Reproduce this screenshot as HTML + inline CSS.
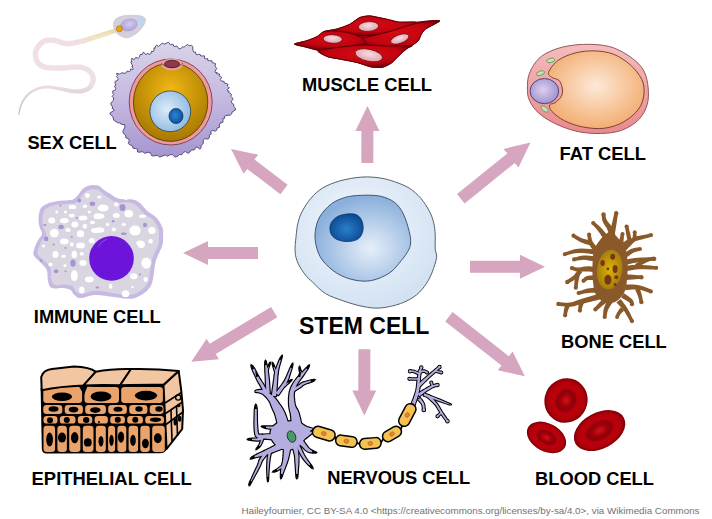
<!DOCTYPE html>
<html><head><meta charset="utf-8"><style>
html,body{margin:0;padding:0;background:#fff;width:712px;height:519px;overflow:hidden}
svg{display:block}
.lab text{font-family:"Liberation Sans",sans-serif;font-weight:bold;fill:#000}
.attr{font-family:"Liberation Sans",sans-serif;fill:#727272}
</style></head><body>
<svg width="712" height="519" viewBox="0 0 712 519">
<defs>
<radialGradient id="stemOut" cx="0.45" cy="0.4" r="0.6"><stop offset="0" stop-color="#f4f8fd"/><stop offset="1" stop-color="#d3e2f3"/></radialGradient>
<radialGradient id="stemNuc" cx="0.58" cy="0.62" r="0.6"><stop offset="0" stop-color="#e6eff9"/><stop offset="1" stop-color="#8bb0dc"/></radialGradient>
<radialGradient id="stemNucl" cx="0.5" cy="0.55" r="0.55"><stop offset="0" stop-color="#2a7fcc"/><stop offset="1" stop-color="#0b4a92"/></radialGradient>
<radialGradient id="rbc" cx="0.5" cy="0.5" r="0.5"><stop offset="0" stop-color="#b4000a"/><stop offset="0.6" stop-color="#bc000c"/><stop offset="0.85" stop-color="#b0000a"/><stop offset="1" stop-color="#7a0006"/></radialGradient>
<radialGradient id="rbcIn" cx="0.5" cy="0.5" r="0.5"><stop offset="0" stop-color="#d41414"/><stop offset="0.45" stop-color="#a0000a"/><stop offset="0.75" stop-color="#8a0008"/><stop offset="1" stop-color="#b4000a" stop-opacity="0"/></radialGradient>
<radialGradient id="fatIn" cx="0.5" cy="0.45" r="0.6"><stop offset="0" stop-color="#fde9d8"/><stop offset="1" stop-color="#f2a96a"/></radialGradient>
<linearGradient id="fatOut" x1="0" y1="0" x2="0" y2="1"><stop offset="0" stop-color="#f5bcbc"/><stop offset="1" stop-color="#e98a8c"/></linearGradient>
<radialGradient id="fatNuc" cx="0.45" cy="0.45" r="0.6"><stop offset="0" stop-color="#dcd0ee"/><stop offset="1" stop-color="#9a8fd0"/></radialGradient>
<linearGradient id="eggCor" x1="0" y1="0" x2="0" y2="1"><stop offset="0" stop-color="#dad3e9"/><stop offset="0.5" stop-color="#c5b9e0"/><stop offset="1" stop-color="#a595d0"/></linearGradient>
<radialGradient id="eggGold" cx="0.5" cy="0.35" r="0.65"><stop offset="0" stop-color="#f2b814"/><stop offset="1" stop-color="#a67800"/></radialGradient>
<radialGradient id="eggNuc" cx="0.42" cy="0.45" r="0.65"><stop offset="0" stop-color="#dcebf8"/><stop offset="1" stop-color="#88b6e0"/></radialGradient>
<radialGradient id="eggNucl" cx="0.45" cy="0.45" r="0.6"><stop offset="0" stop-color="#2a86d4"/><stop offset="1" stop-color="#0a4d9c"/></radialGradient>
<radialGradient id="musc" cx="0.5" cy="0.4" r="0.6"><stop offset="0" stop-color="#d80a12"/><stop offset="0.65" stop-color="#c00410"/><stop offset="1" stop-color="#720008"/></radialGradient>
<radialGradient id="muscNuc" cx="0.5" cy="0.4" r="0.65"><stop offset="0" stop-color="#f8dce0"/><stop offset="1" stop-color="#e29aa4"/></radialGradient>
<radialGradient id="spHead" cx="0.55" cy="0.45" r="0.6"><stop offset="0" stop-color="#d4cbec"/><stop offset="1" stop-color="#ab9cd6"/></radialGradient>
<radialGradient id="boneNuc" cx="0.5" cy="0.5" r="0.55"><stop offset="0" stop-color="#dcb400"/><stop offset="1" stop-color="#a07810"/></radialGradient>
</defs>
<polygon fill="#d6a5bf" points="373.3,163 373.4,131 379.4,131 367.5,106 355.4,131 361.4,131 361.3,163"/>
<polygon fill="#d6a5bf" points="287.6,184.7 254.5,159.4 258.2,154.6 231,149 243.6,173.7 247.2,168.9 280.4,194.3"/>
<polygon fill="#d6a5bf" points="258,247 208,247 208,241 183,253 208,265 208,259 258,259"/>
<polygon fill="#d6a5bf" points="271.1,307 209.7,343.8 206.6,338.7 191.3,361.8 218.9,359.2 215.8,354.1 277.3,317.2"/>
<polygon fill="#d6a5bf" points="358.4,349.3 358.3,390.6 352.3,390.6 364.3,415.6 376.3,390.6 370.3,390.6 370.4,349.3"/>
<polygon fill="#d6a5bf" points="445.2,321.5 501.5,365.6 497.8,370.3 524.9,376.3 512.6,351.4 508.9,356.2 452.6,312.1"/>
<polygon fill="#d6a5bf" points="470,272.7 520,272.7 520,278.7 545,266.7 520,254.7 520,260.7 470,260.7"/>
<polygon fill="#d6a5bf" points="464.6,203.4 514.8,162.9 518.5,167.6 530.5,142.6 503.5,148.9 507.3,153.6 457,194"/>
<linearGradient id="tailG" gradientUnits="userSpaceOnUse" x1="0" y1="84" x2="0" y2="116"><stop offset="0" stop-color="#f1dfe6"/><stop offset="1" stop-color="#b8b8bc"/></linearGradient><polygon points="84.0,38.0 82.1,38.4 79.4,39.0 76.2,39.7 72.9,40.4 69.8,40.8 67.2,41.0 65.1,40.8 63.0,40.2 60.8,39.5 58.5,38.7 56.1,37.9 53.7,37.5 51.5,37.4 49.4,37.4 47.3,37.6 45.3,38.0 43.4,38.7 41.5,39.6 39.7,40.8 38.1,42.3 36.6,44.0 35.3,45.9 34.2,47.8 33.4,49.8 32.9,51.9 32.8,54.0 32.8,56.2 33.2,58.3 33.7,60.4 34.5,62.2 35.5,63.8 36.6,65.3 38.1,66.7 39.8,67.9 41.7,68.9 44.0,69.7 46.6,70.2 49.6,70.5 52.7,70.7 55.9,70.7 59.0,70.7 62.1,70.7 65.1,70.6 68.3,70.3 71.4,70.0 74.3,69.8 76.9,69.7 79.1,69.8 81.1,70.1 82.9,70.6 84.4,71.1 85.8,71.8 87.0,72.6 87.9,73.3 88.7,74.2 89.4,75.3 90.0,76.5 90.3,77.7 90.5,78.8 90.5,79.8 90.3,80.9 89.9,82.2 89.3,83.5 88.5,84.8 87.6,85.9 86.7,86.8 85.5,87.5 83.9,88.1 82.2,88.6 80.2,88.9 78.1,89.2 75.9,89.3 73.7,89.2 71.3,88.9 68.7,88.5 66.0,87.9 63.3,87.4 60.6,87.0 58.0,86.7 55.3,86.2 52.6,85.8 49.9,85.5 47.2,85.4 44.5,85.5 41.9,86.0 39.4,86.7 36.9,87.6 34.5,88.7 32.2,89.9 30.1,91.3 28.3,92.8 26.6,94.5 25.0,96.3 23.7,98.3 22.4,100.2 21.4,102.2 20.5,104.4 19.8,106.8 19.2,109.2 18.8,111.4 18.5,113.3 18.2,114.7 19.2,114.9 19.6,113.6 20.0,111.7 20.5,109.5 21.1,107.2 21.9,104.9 22.8,103.0 23.9,101.2 25.2,99.3 26.6,97.6 28.1,95.9 29.7,94.4 31.5,93.1 33.4,92.0 35.5,91.0 37.8,90.1 40.1,89.3 42.5,88.8 44.9,88.5 47.2,88.4 49.6,88.6 52.1,89.0 54.7,89.5 57.4,90.1 60.0,90.6 62.6,91.1 65.2,91.7 67.9,92.3 70.6,92.9 73.3,93.3 75.9,93.5 78.3,93.5 80.7,93.4 83.0,93.0 85.3,92.5 87.4,91.8 89.3,90.8 91.1,89.5 92.6,87.9 93.8,86.1 94.8,84.3 95.5,82.3 95.9,80.4 95.9,78.4 95.6,76.4 95.0,74.5 94.1,72.7 93.0,71.0 91.7,69.5 90.1,68.2 88.4,67.1 86.5,66.2 84.4,65.4 82.2,64.8 79.7,64.4 76.9,64.3 73.9,64.4 70.9,64.6 67.8,65.0 64.8,65.2 61.9,65.3 59.0,65.3 55.9,65.3 52.8,65.3 50.0,65.2 47.4,64.9 45.4,64.5 43.8,63.9 42.5,63.3 41.5,62.6 40.6,61.7 39.9,60.8 39.3,59.8 38.8,58.6 38.4,57.2 38.2,55.7 38.2,54.2 38.3,52.7 38.6,51.4 39.1,50.1 39.9,48.8 40.9,47.4 42.0,46.1 43.2,45.0 44.3,44.2 45.4,43.6 46.7,43.2 48.1,43.0 49.7,42.8 51.4,42.8 53.1,42.9 54.8,43.2 56.8,43.8 59.0,44.6 61.5,45.4 64.2,46.1 67.2,46.4 70.4,46.2 73.8,45.7 77.3,45.0 80.6,44.3 83.3,43.6 85.2,43.2" fill="url(#tailG)"/><linearGradient id="midG" gradientUnits="userSpaceOnUse" x1="114" y1="31" x2="80" y2="42"><stop offset="0" stop-color="#ecdcae"/><stop offset="0.6" stop-color="#efe2bc"/><stop offset="1" stop-color="#f1dfe6"/></linearGradient><polygon points="114.3,28.6 99.3,33.3 81.2,38.8 82.8,43.8 100.7,37.7 115.7,33.0" fill="url(#midG)"/><path d="M111,33 L92,38.6" stroke="#f5edd2" stroke-width="1.2" stroke-linecap="round" opacity="0.7"/><path d="M126,38 C118,36 113,31 113.5,24 C114,18 120,15.5 130,15.3 C139,15 146,16 145.5,20.5 C145,26 136,37 126,38 Z" fill="#d5cfdd" stroke="#c4bdcc" stroke-width="0.6"/><ellipse cx="129" cy="24.9" rx="9" ry="6.2" transform="rotate(-15 129 24.9)" fill="url(#spHead)"/><ellipse cx="140.8" cy="20.9" rx="3.5" ry="4" fill="#bcd6ee"/><circle cx="119.4" cy="28.8" r="3" fill="#e8a800" stroke="#b07a10" stroke-width="0.8"/>
<path d="M113.6,98.0 L112.1,96.3 L113.7,94.7 L112.8,93.0 L112.6,91.2 L115.4,89.9 L115.8,88.2 L114.4,86.3 L116.0,85.2 L115.2,83.4 L115.0,81.4 L117.7,80.4 L118.1,78.6 L116.4,76.5 L117.5,75.6 L116.4,73.8 L116.7,73.3 L119.7,74.1 L120.5,73.8 L121.4,72.8 L125.0,73.3 L126.5,72.6 L126.9,71.2 L129.8,71.4 L130.7,70.3 L130.5,69.0 L132.8,69.5 L133.1,68.5 L131.8,66.3 L132.8,66.1 L131.9,64.3 L130.8,61.9 L131.9,61.5 L131.3,59.5 L131.7,58.4 L134.1,59.5 L134.9,58.9 L135.7,57.4 L138.4,58.2 L139.6,57.1 L140.1,54.5 L142.3,54.4 L143.2,52.3 L143.6,52.1 L145.5,54.4 L146.2,54.7 L147.2,53.2 L149.7,54.4 L151.0,53.5 L151.5,51.2 L153.2,51.7 L154.0,49.9 L154.0,47.8 L155.0,48.5 L155.2,47.0 L156.5,45.2 L158.5,46.4 L160.0,45.2 L162.2,43.2 L164.8,44.2 L167.1,42.8 L168.6,42.2 L170.3,44.6 L171.9,44.6 L172.9,44.0 L173.8,46.4 L174.8,46.4 L176.9,46.0 L178.7,48.6 L180.8,48.8 L182.6,46.6 L183.8,47.4 L185.5,45.8 L187.8,44.4 L189.3,46.0 L191.5,45.2 L192.7,46.4 L192.9,50.5 L193.9,52.3 L195.6,52.0 L196.0,54.4 L197.5,54.7 L199.9,54.1 L200.8,56.0 L202.9,55.9 L204.6,55.9 L204.5,58.4 L205.8,58.9 L207.8,58.6 L207.8,60.5 L209.4,60.7 L211.9,60.7 L212.2,62.7 L214.2,63.1 L215.7,63.7 L214.9,66.3 L216.0,67.3 L216.8,68.4 L215.1,71.2 L215.4,72.6 L217.2,72.4 L216.5,73.7 L217.8,73.8 L219.7,74.0 L218.9,75.7 L220.2,76.2 L221.7,77.3 L220.4,79.6 L221.4,81.0 L224.1,81.4 L224.0,82.8 L226.2,83.4 L228.1,84.3 L227.2,85.9 L228.5,87.0 L229.3,88.0 L227.1,89.5 L227.3,90.6 L229.3,91.2 L228.3,92.3 L229.7,93.0 L231.7,94.5 L230.7,96.2 L232.1,97.7 L233.1,99.4 L231.2,101.2 L231.6,102.9 L234.0,104.7 L233.5,106.2 L235.3,107.9 L235.3,110.1 L232.2,111.9 L231.6,114.0 L230.3,115.1 L226.1,115.5 L224.2,116.5 L224.9,118.1 L222.8,118.8 L223.0,120.2 L222.9,122.3 L220.0,123.2 L219.3,125.1 L219.5,127.3 L217.1,128.0 L216.8,130.0 L215.7,131.1 L212.3,130.5 L210.7,131.3 L211.2,134.1 L209.4,135.0 L209.4,137.4 L208.2,139.1 L204.9,138.6 L203.3,139.9 L203.2,143.7 L201.3,145.1 L200.8,148.5 L199.8,149.1 L197.3,147.2 L195.9,147.3 L194.3,150.0 L191.5,150.0 L189.7,152.2 L188.0,153.3 L185.5,151.6 L183.6,152.2 L181.7,154.8 L179.4,154.5 L177.4,156.5 L175.0,157.1 L172.5,154.7 L170.0,154.7 L167.5,156.3 L165.3,154.9 L162.9,155.9 L159.8,157.1 L157.3,155.3 L154.3,155.9 L151.8,155.8 L150.4,152.9 L148.1,152.2 L144.7,153.3 L142.7,151.7 L139.5,152.2 L137.6,152.0 L137.4,149.2 L135.8,148.5 L133.0,148.2 L132.1,145.6 L129.6,144.8 L128.4,143.6 L129.2,140.3 L128.4,138.7 L125.8,137.8 L125.6,135.0 L123.5,133.7 L122.9,131.3 L124.8,127.3 L124.7,124.5 L121.2,124.4 L120.3,123.0 L117.3,122.6 L113.7,120.1 L112.9,116.7 L109.9,114.0 L110.2,112.8 L113.4,111.0 L114.2,109.7 L112.0,108.4 L112.8,106.8 L111.2,105.4 L110.8,103.0 L113.4,100.5Z" fill="url(#eggCor)" stroke="#54487a" stroke-width="0.95" stroke-linejoin="round"/><ellipse cx="170.7" cy="102" rx="41.5" ry="43" fill="#ee9a9c" stroke="#6a3038" stroke-width="0.8"/><ellipse cx="170.6" cy="102.2" rx="37.2" ry="39.2" fill="url(#eggGold)" stroke="#4a3600" stroke-width="0.8"/><ellipse cx="172" cy="64.5" rx="11" ry="6" fill="#ee9a9c" stroke="none"/><path d="M161,63.5 Q172,72 183,63.5" fill="none" stroke="#4a3600" stroke-width="0.7"/><ellipse cx="172" cy="64" rx="7.5" ry="3.7" fill="#8a3a4a" stroke="#3a1018" stroke-width="0.7"/><circle cx="170.3" cy="111.3" r="20.4" fill="url(#eggNuc)" stroke="#243e5c" stroke-width="0.8"/><ellipse cx="176" cy="116" rx="7" ry="7.6" fill="url(#eggNucl)" stroke="#0a2a5a" stroke-width="0.7"/>
<path d="M294.5,44C294.8,43.3 304.3,41.6 306.9,40.7C309.5,39.8 315,37.8 317,36.7C319,35.7 321.3,32.6 323.7,31.7C326.1,30.8 334.2,29.8 337.2,28.9C340.2,28 347,25.7 349.6,24.4C352.2,23.1 357.5,18.6 359.7,17.6C361.9,16.6 366.8,16 368.7,15.9C370.6,15.8 373.8,16.5 376.2,17C378.6,17.5 387.1,19.3 389.7,19.9C392.3,20.5 395.7,21.8 398.7,22.1C401.7,22.4 412.2,22.2 415.6,22.1C419,22 425.1,21.1 427.9,21C430.7,20.9 440,20.1 439.7,21C439.4,21.9 427.9,27.3 425.7,28.9C423.5,30.5 422.1,33.1 421.2,34.5C420.3,35.9 419.4,39.6 417.8,41.2C416.2,42.8 409.9,46.3 407.7,48C405.5,49.7 400.5,54.1 398.7,55.8C396.9,57.5 393.8,61.3 392,62.6C390.2,63.9 385.4,66.6 383,67.1C380.6,67.6 374.7,67.6 371.7,67.1C368.7,66.6 361,63.5 357.4,62.6C353.8,61.7 344,59.9 340.6,59.2C337.2,58.5 330.7,57.7 328.2,56.9C325.7,56.1 320.4,53.2 319.2,52.4C318,51.6 319.8,50.9 318.1,50.2C316.4,49.5 307.4,47.5 304.6,46.8C301.8,46.1 294.2,44.7 294.5,44Z" fill="#a8000e" stroke="#6e0008" stroke-width="0.9"/><path d="M323.7,31.7C324,31 334.2,29.8 337.2,28.9C340.2,28 347,25.7 349.6,24.4C352.2,23.1 357.5,18.6 359.7,17.6C361.9,16.6 366.8,16 368.7,15.9C370.6,15.8 373.8,16.5 376.2,17C378.6,17.5 387.1,19.3 389.7,19.9C392.3,20.5 395.7,21.8 398.7,22.1C401.7,22.4 414.3,21.6 415.6,22.1C416.9,22.6 412.4,25.4 410,26.5C407.6,27.6 399.1,30.5 395,31.5C390.9,32.5 380.2,34.5 375,35C369.8,35.5 354.7,36 350,36C345.3,36 338.1,35.5 335,35C331.9,34.5 323.4,32.4 323.7,31.7Z" fill="url(#musc)" stroke="#5e0006" stroke-width="1"/><path d="M352,41C352.9,39.8 365.6,37.6 370,36.5C374.4,35.4 385.3,32.8 390,31.5C394.7,30.2 405.6,26.2 410,25C414.4,23.8 424.4,21.7 427.9,21.2C431.4,20.7 440,20.1 439.7,21C439.4,21.9 427.9,27.3 425.7,28.9C423.5,30.5 422.1,33.1 421.2,34.5C420.3,35.9 419.4,39.6 417.8,41.2C416.2,42.8 410.4,46.9 407.7,48C405,49.1 398.5,50.8 395,51C391.5,51.2 381.9,50.5 378,50C374.1,49.5 365,47.5 362,46.5C359,45.5 351.1,42.2 352,41Z" fill="url(#musc)" stroke="#5e0006" stroke-width="1"/><path d="M294.5,44C294.8,43.3 304.3,41.6 306.9,40.7C309.5,39.8 315,37.8 317,36.7C319,35.7 321.6,32.4 323.7,31.7C325.8,31 331.9,30.8 335,31C338.1,31.2 346.9,32.2 350,33C353.1,33.8 360.1,36.7 362,38C363.9,39.3 367.2,42.8 366,44C364.8,45.2 356,47.9 352,48.5C348,49.1 336,48.8 332,49C328,49.2 321.3,50.5 318.1,50.2C314.9,49.9 307.4,47.5 304.6,46.8C301.8,46.1 294.2,44.7 294.5,44Z" fill="url(#musc)" stroke="#5e0006" stroke-width="1"/><path d="M318.1,50.2C319.4,49.7 326.9,48.9 330,48.5C333.1,48.1 340.9,46.9 345,46.5C349.1,46.1 360.3,45.1 365,45C369.7,44.9 380.9,45.9 385,46C389.1,46.1 396.9,45.5 400,45.5C403.1,45.5 411.1,45.7 412,46C412.9,46.3 409.3,46.9 407.7,48C406.1,49.1 400.5,54.1 398.7,55.8C396.9,57.5 393.8,61.3 392,62.6C390.2,63.9 385.4,66.6 383,67.1C380.6,67.6 374.7,67.6 371.7,67.1C368.7,66.6 361,63.5 357.4,62.6C353.8,61.7 344,59.9 340.6,59.2C337.2,58.5 330.7,57.7 328.2,56.9C325.7,56.1 320.4,53.2 319.2,52.4C318,51.6 316.8,50.7 318.1,50.2Z" fill="url(#musc)" stroke="#5e0006" stroke-width="1"/><ellipse cx="368.5" cy="26.5" rx="10.2" ry="4.9" transform="rotate(-4 368.5 26.5)" fill="url(#muscNuc)" stroke="#6a0a16" stroke-width="0.8"/><ellipse cx="332.7" cy="39" rx="9.6" ry="4.3" transform="rotate(3 332.7 39)" fill="url(#muscNuc)" stroke="#6a0a16" stroke-width="0.8"/><ellipse cx="399.8" cy="39" rx="9.6" ry="4.3" transform="rotate(-20 399.8 39)" fill="url(#muscNuc)" stroke="#6a0a16" stroke-width="0.8"/><ellipse cx="368.8" cy="55.3" rx="14" ry="6" transform="rotate(12 368.8 55.3)" fill="url(#muscNuc)" stroke="#6a0a16" stroke-width="0.8"/>
<path d="M527.4,88C527.4,83.4 527.5,78 529.5,73.1C531.5,68.1 535,62.2 539.1,58.3C543.2,54.4 548.2,52 553.9,49.8C559.5,47.6 566.3,46.1 573,45.2C579.7,44.3 587.4,44.1 594.1,44.5C600.8,44.9 606.8,45.4 613.2,47.7C619.6,50 627.2,54.4 632.3,58.3C637.4,62.2 641.2,66 643.9,71C646.5,76 647.7,82.3 648.2,88C648.7,93.7 648.7,99.6 647.1,104.9C645.5,110.2 642.8,115.5 638.6,119.7C634.4,123.9 628.1,128 621.7,130.3C615.4,132.6 607.9,133.3 600.5,133.5C593.1,133.7 584.6,133 577.2,131.4C569.8,129.8 562.4,127 556,124C549.6,121 543.5,117.3 539.1,113.4C534.7,109.5 531.5,104.9 529.5,100.7C527.5,96.5 527.4,92.6 527.4,88Z" fill="url(#fatOut)" stroke="#8a4a4e" stroke-width="0.9"/><path d="M548.6,72.1C549.7,69.3 553.7,63.6 558.1,60.4C562.5,57.2 569.1,54.6 575.1,53C581.1,51.4 587.8,50.7 594.1,50.9C600.5,51.1 607.2,51.8 613.2,54.1C619.2,56.4 625.3,60.5 630.1,64.7C634.9,68.9 639.5,74.6 641.8,79.5C644.1,84.4 644.4,89.4 643.9,94.3C643.4,99.2 642,104.5 638.6,109.1C635.2,113.7 629.4,118.6 623.8,121.8C618.1,125 611.4,127.3 604.7,128.2C598,129.1 590.2,128.3 583.5,127.1C576.8,125.9 569.8,123.4 564.5,120.8C559.2,118.2 554.3,113.9 551.8,111.3C549.3,108.7 549.2,106.3 549.7,104.9C550.2,103.5 553.1,104.2 555,102.8C556.9,101.4 560.1,98.7 561.3,96.4C562.5,94.1 562.8,91.7 562.4,89C562,86.3 561,82.4 559.2,80.5C557.4,78.6 553.6,78.8 551.8,77.4C550,76 547.5,74.9 548.6,72.1Z" fill="url(#fatIn)" stroke="#6a3a30" stroke-width="0.9"/><ellipse cx="544.4" cy="91.1" rx="14.3" ry="12.6" fill="url(#fatNuc)" stroke="#4a3a66" stroke-width="0.9"/><ellipse cx="550.7" cy="60.4" rx="4.3" ry="2.1" transform="rotate(-15 550.7 60.4)" fill="#c4e2b4" stroke="#5a8a4c" stroke-width="0.7"/><ellipse cx="540.5" cy="73.2" rx="4.3" ry="2.1" transform="rotate(-20 540.5 73.2)" fill="#c4e2b4" stroke="#5a8a4c" stroke-width="0.7"/><ellipse cx="544.6" cy="109" rx="4.3" ry="2.1" transform="rotate(35 544.6 109)" fill="#c4e2b4" stroke="#5a8a4c" stroke-width="0.7"/>
<path d="M361.5,177.1C368.2,176.6 374.8,177.2 380.3,178C385.8,178.8 389.9,180.1 394.7,181.8C399.5,183.5 404.9,185.4 409.2,188.1C413.5,190.8 417.3,194.3 420.7,198.2C424.1,202 427.2,207.1 429.4,211.2C431.6,215.3 432.7,219 433.7,222.8C434.7,226.7 434.9,230 435.2,234.3C435.4,238.6 435,245 435.2,248.8C435.4,252.7 437.1,253.5 436.6,257.4C436.1,261.2 434,267.6 432.3,271.9C430.6,276.2 429.1,279.5 426.5,283.4C423.9,287.2 420.7,291.6 416.4,295C412.1,298.4 406.5,301.4 400.5,303.6C394.5,305.8 386.6,307.5 380.3,308C374.1,308.5 369.2,307.7 363,306.5C356.8,305.3 349.1,302.9 342.8,300.7C336.5,298.5 330.5,296.6 325.4,293.5C320.3,290.4 315.8,285.1 312.4,282C309,278.9 307.6,277.8 305.2,274.7C302.8,271.6 299.7,267.1 298,263.2C296.3,259.3 295.4,255.9 295.1,251.6C294.8,247.3 295.5,242 296,237.2C296.5,232.4 296.9,227.1 298,222.8C299.1,218.5 300.1,215.3 302.3,211.2C304.5,207.1 307.6,202 311,198.2C314.4,194.3 317.7,191 322.5,188.1C327.3,185.2 333.4,182.7 339.9,180.9C346.4,179.1 354.8,177.6 361.5,177.1Z" fill="url(#stemOut)" stroke="#56606c" stroke-width="1"/><path d="M361.5,195.3C367.3,195.1 374.8,195 380.3,196.2C385.8,197.4 390.9,199.5 394.7,202.5C398.5,205.5 401,209.3 403.4,214.1C405.8,218.9 408,226.6 409.2,231.4C410.4,236.2 410.9,239.6 410.6,243C410.4,246.4 409.6,248.2 407.7,251.6C405.8,255 402.2,259.6 399.1,263.2C396,266.8 393.6,270.4 389,273.3C384.4,276.2 377.4,279.4 371.6,280.5C365.8,281.6 360.1,281.2 354.3,280C348.5,278.8 342.3,276.6 337,273.3C331.7,270 326,264.9 322.5,260.3C319,255.7 317.4,250.7 316.2,245.9C315,241.1 314.7,236.2 315.3,231.4C315.9,226.6 317.1,221.6 319.7,217C322.3,212.4 326.9,207.3 331.2,204C335.5,200.7 340.6,198.8 345.6,197.3C350.7,195.9 355.7,195.5 361.5,195.3Z" fill="url(#stemNuc)" stroke="#3e5674" stroke-width="1"/><path d="M331.2,222.8C332.8,219.9 336,216.9 339.9,215.5C343.8,214.1 350.7,213.4 354.3,214.1C357.9,214.8 360.1,217.2 361.5,219.9C362.9,222.6 363.5,226.9 363,230C362.5,233.1 361,236.7 358.6,238.6C356.2,240.5 352.1,241.3 348.5,241.5C344.9,241.7 340,240.9 337,239.5C334,238.1 331.6,235.7 330.6,232.9C329.6,230.1 329.6,225.7 331.2,222.8Z" fill="url(#stemNucl)" stroke="#0a3466" stroke-width="0.8"/>
<g transform="translate(566 400.5) rotate(25)"><ellipse rx="21.5" ry="22.5" fill="url(#rbc)"/><ellipse rx="12" ry="14" fill="url(#rbcIn)"/></g><g transform="translate(546.5 437.4) rotate(28)"><ellipse rx="21" ry="14" fill="url(#rbc)"/><ellipse rx="12.5" ry="7.8" fill="url(#rbcIn)"/></g><g transform="translate(599.6 430.6) rotate(-28)"><ellipse rx="27.5" ry="18" fill="url(#rbc)"/><ellipse rx="17.5" ry="10.5" fill="url(#rbcIn)"/></g>
<path d="M90.5,185.3C93,184.8 96,185 98,185.6C100,186.2 100.5,187.4 102.5,188.8C104.5,190.2 107.3,192.1 110,193.8C112.7,195.5 115,197.9 118.8,198.8C122.5,199.7 129,198.7 132.5,199.4C136,200.1 137.5,201 140,203C142.5,205 144.8,208.9 147.5,211.3C150.2,213.7 153.8,214.8 156.3,217.5C158.8,220.2 161.4,224.6 162.5,227.5C163.6,230.4 163.1,232.1 163.1,235C163.1,237.9 163.4,241.4 162.5,245C161.6,248.6 158.8,253 157.5,256.3C156.2,259.6 155.6,262.1 155,265C154.4,267.9 154.4,270.5 153.8,273.8C153.2,277.1 152.8,281.9 151.3,285C149.8,288.1 147.5,290.4 145,292.5C142.5,294.6 139,296.4 136.3,297.5C133.6,298.6 132.6,298.9 128.8,298.8C125.1,298.7 119.4,297.5 113.8,296.9C108.2,296.3 100.5,294.8 95,295C89.5,295.2 84,298.1 80.5,298.1C77,298.1 76,296.4 74.3,295C72.6,293.6 72.4,291.1 70.5,290C68.6,288.9 66.1,288.4 63,288.1C59.9,287.8 54.3,289.2 51.8,288.1C49.3,287 48.8,284.3 48,281.3C47.2,278.3 48,273.1 46.8,270C45.5,266.9 42.6,264.8 40.5,262.5C38.4,260.2 35.4,258.2 34.3,256.3C33.1,254.4 33.1,253.9 33.6,251.3C34.1,248.8 36.1,243.9 37.5,241C38.9,238.1 41.7,236.4 42,234C42.3,231.6 39.9,229.1 39.3,226.3C38.7,223.6 38.4,220.4 38.6,217.5C38.8,214.6 39.4,211 40.5,208.8C41.6,206.6 43.4,205.6 45.5,204.4C47.6,203.2 50.1,202.5 53,201.9C55.9,201.3 59.7,201 63,200.6C66.3,200.2 70.5,200.3 73,199.4C75.5,198.5 76.3,196.8 78,195C79.7,193.2 80.9,190.4 83,188.8C85.1,187.2 88,185.8 90.5,185.3Z" fill="#c8b9e2"/><path d="M90.8,189.5C93.1,189 95.9,189.2 97.7,189.8C99.6,190.4 100,191.6 101.9,192.9C103.7,194.3 106.2,196.2 108.7,197.8C111.2,199.4 113.2,201.7 116.7,202.4C120.2,203.2 126.3,202 129.7,202.5C133,203.1 134.4,203.9 136.8,205.7C139.2,207.5 141.3,211.2 143.9,213.4C146.5,215.6 150,216.5 152.4,219C154.8,221.5 157.3,225.6 158.4,228.4C159.5,231.1 158.9,232.7 158.9,235.4C158.9,238.1 159.2,241.5 158.3,244.8C157.4,248.1 154.6,252.2 153.4,255.4C152.2,258.5 151.6,260.8 151.1,263.5C150.5,266.2 150.6,268.6 150.1,271.8C149.6,275 149.3,279.5 148,282.5C146.6,285.4 144.4,287.6 142,289.5C139.7,291.5 136.3,293.2 133.8,294.1C131.2,295.1 130.2,295.4 126.6,295.2C123.1,295 117.7,293.7 112.4,292.9C107.1,292.2 100.1,290.6 94.9,290.8C89.8,291 84.7,294 81.5,294C78.3,294.1 77.3,292.4 75.8,291.1C74.2,289.8 74.1,287.3 72.4,286.2C70.6,285.2 68.3,284.8 65.3,284.6C62.4,284.4 57,286 54.6,285C52.3,284 51.9,281.4 51.2,278.6C50.5,275.7 51.5,270.8 50.4,267.8C49.3,264.9 46.4,263.1 44.4,261C42.4,258.9 39.5,257 38.4,255.3C37.3,253.6 37.2,253 37.7,250.6C38.3,248.3 40.3,243.7 41.7,241C43.1,238.4 45.9,236.9 46.2,234.6C46.4,232.3 44,230 43.3,227.4C42.7,224.9 42.3,221.9 42.5,219.2C42.6,216.4 43,213 44.1,211C45.1,209 46.8,208 48.8,207C50.8,205.9 53.2,205.3 56,204.8C58.8,204.3 62.4,204.2 65.5,203.9C68.7,203.7 72.6,204 74.9,203.2C77.2,202.3 77.9,200.7 79.4,199C80.9,197.3 82,194.5 83.9,192.9C85.8,191.3 88.5,190 90.8,189.5Z" fill="#d9d5e1"/><ellipse cx="87.4" cy="195.6" rx="2.5" ry="2.3" fill="#fff"/><ellipse cx="72.4" cy="206.9" rx="3.7" ry="2.2" fill="#fff"/><ellipse cx="84.9" cy="206.3" rx="2.2" ry="1.8" fill="#fff"/><ellipse cx="56.8" cy="211.9" rx="1.5" ry="1.5" fill="#fff"/><ellipse cx="65.5" cy="211.9" rx="1.5" ry="1.5" fill="#fff"/><ellipse cx="89.3" cy="211.9" rx="1.5" ry="1.5" fill="#fff"/><ellipse cx="71.8" cy="215.6" rx="3" ry="1.8" fill="#fff"/><ellipse cx="83" cy="218.1" rx="4.4" ry="2.5" fill="#fff"/><ellipse cx="97.4" cy="216.3" rx="3.7" ry="3" fill="#fff"/><ellipse cx="51.8" cy="220.6" rx="3.5" ry="3" fill="#fff"/><ellipse cx="64.3" cy="220.6" rx="4.4" ry="2.7" fill="#fff"/><ellipse cx="92.4" cy="222.5" rx="2.7" ry="1.8" fill="#fff"/><ellipse cx="74.9" cy="224.4" rx="3.5" ry="3" fill="#fff"/><ellipse cx="84.9" cy="226.3" rx="2.2" ry="2.5" fill="#fff"/><ellipse cx="54.3" cy="233.1" rx="4.4" ry="4.4" fill="#fff"/><ellipse cx="68" cy="230" rx="2.7" ry="2" fill="#fff"/><ellipse cx="80.5" cy="233.8" rx="3.7" ry="3.5" fill="#fff"/><ellipse cx="95.5" cy="230.6" rx="4.4" ry="2.5" fill="#fff"/><ellipse cx="64.3" cy="241.6" rx="4.4" ry="3" fill="#fff"/><ellipse cx="91.8" cy="240.6" rx="3" ry="2.7" fill="#fff"/><ellipse cx="99.4" cy="196.9" rx="2.2" ry="1.5" fill="#fff"/><ellipse cx="103.1" cy="208.1" rx="5.6" ry="3.5" fill="#fff"/><ellipse cx="116.3" cy="204.4" rx="2.2" ry="2.2" fill="#fff"/><ellipse cx="128.8" cy="213.8" rx="4.4" ry="3.7" fill="#fff"/><ellipse cx="142.5" cy="216.3" rx="3.5" ry="1.8" fill="#fff"/><ellipse cx="99.4" cy="216.3" rx="5" ry="2.7" fill="#fff"/><ellipse cx="116.3" cy="215.6" rx="3.5" ry="2.5" fill="#fff"/><ellipse cx="107.5" cy="224.4" rx="1.7" ry="1.7" fill="#fff"/><ellipse cx="123.8" cy="224.4" rx="2.2" ry="1.5" fill="#fff"/><ellipse cx="99.4" cy="230" rx="5" ry="2.7" fill="#fff"/><ellipse cx="113.8" cy="229.4" rx="2.2" ry="2" fill="#fff"/><ellipse cx="135" cy="230.6" rx="5.6" ry="5" fill="#fff"/><ellipse cx="151.9" cy="230.6" rx="3.7" ry="3.5" fill="#fff"/><ellipse cx="140" cy="243.1" rx="3.7" ry="2.5" fill="#fff"/><ellipse cx="150.6" cy="241.3" rx="2.3" ry="2.3" fill="#fff"/><ellipse cx="126" cy="198.5" rx="1.8" ry="1.5" fill="#fff"/><ellipse cx="71.8" cy="244.4" rx="1.8" ry="2.2" fill="#fff"/><ellipse cx="80.5" cy="245.6" rx="4.4" ry="3" fill="#fff"/><ellipse cx="55.5" cy="254.4" rx="3" ry="3.5" fill="#fff"/><ellipse cx="63.6" cy="256.3" rx="2.5" ry="1.5" fill="#fff"/><ellipse cx="74.3" cy="254.4" rx="2.7" ry="3.7" fill="#fff"/><ellipse cx="81.8" cy="253.8" rx="2.2" ry="1.8" fill="#fff"/><ellipse cx="50.5" cy="264.4" rx="2.2" ry="2" fill="#fff"/><ellipse cx="64.9" cy="265.6" rx="1.6" ry="1.6" fill="#fff"/><ellipse cx="83" cy="263.1" rx="3.7" ry="3" fill="#fff"/><ellipse cx="74.3" cy="275.6" rx="3.5" ry="5.6" fill="#fff"/><ellipse cx="89.3" cy="279.4" rx="4.4" ry="3" fill="#fff"/><ellipse cx="81.8" cy="290" rx="2.7" ry="3.5" fill="#fff"/><ellipse cx="141.3" cy="244.4" rx="3.7" ry="3.5" fill="#fff"/><ellipse cx="146.3" cy="263.1" rx="5" ry="5.6" fill="#fff"/><ellipse cx="133.8" cy="276.3" rx="3.7" ry="3" fill="#fff"/><ellipse cx="145.6" cy="279.4" rx="2.2" ry="2.5" fill="#fff"/><ellipse cx="110.6" cy="286.3" rx="1.8" ry="2.5" fill="#fff"/><ellipse cx="132.5" cy="286.9" rx="1.2" ry="1.2" fill="#fff"/><ellipse cx="125.6" cy="293.8" rx="3.7" ry="3.5" fill="#fff"/><ellipse cx="43.5" cy="246" rx="1.5" ry="1.5" fill="#fff"/><ellipse cx="79.3" cy="200.6" rx="1.8" ry="2" fill="#a892d2"/><ellipse cx="92.4" cy="203.8" rx="2.7" ry="2.2" fill="#a892d2"/><ellipse cx="60.5" cy="205.6" rx="1" ry="1" fill="#a892d2"/><ellipse cx="44.9" cy="225" rx="1.5" ry="1" fill="#a892d2"/><ellipse cx="61.1" cy="226.9" rx="2.7" ry="2.2" fill="#a892d2"/><ellipse cx="76.8" cy="218.1" rx="1" ry="1" fill="#a892d2"/><ellipse cx="46.1" cy="238.8" rx="2.2" ry="2.5" fill="#a892d2"/><ellipse cx="71.8" cy="236.9" rx="1" ry="1" fill="#a892d2"/><ellipse cx="122.5" cy="207.5" rx="3" ry="3.5" fill="#a892d2"/><ellipse cx="113.1" cy="221.3" rx="1.3" ry="1.3" fill="#a892d2"/><ellipse cx="145" cy="225" rx="2" ry="2.2" fill="#a892d2"/><ellipse cx="123.8" cy="233.8" rx="3" ry="1.2" fill="#a892d2"/><ellipse cx="46.8" cy="240" rx="1.5" ry="1" fill="#a892d2"/><ellipse cx="53.6" cy="244.4" rx="1" ry="1" fill="#a892d2"/><ellipse cx="65.5" cy="248.1" rx="1" ry="1" fill="#a892d2"/><ellipse cx="73" cy="263.1" rx="2.7" ry="3.7" fill="#a892d2"/><ellipse cx="41.1" cy="260.6" rx="1.2" ry="1.2" fill="#a892d2"/><ellipse cx="56.1" cy="271.3" rx="2.2" ry="2" fill="#a892d2"/><ellipse cx="65.5" cy="271.3" rx="1" ry="1" fill="#a892d2"/><ellipse cx="97.4" cy="287.5" rx="1.8" ry="1" fill="#a892d2"/><ellipse cx="140" cy="274.4" rx="1" ry="1" fill="#a892d2"/><circle cx="111.5" cy="258.4" r="22.3" fill="#6c14da"/><path d="M98,247 Q101,241 107,239" fill="none" stroke="#9a6ae8" stroke-width="0.7"/>
<g fill="#8a592a"><polygon points="615.5,234.9 615.0,233.8 614.3,232.2 613.5,230.3 612.5,228.3 611.5,226.5 610.5,224.8 609.3,223.4 608.2,222.0 607.3,220.9 606.7,219.8 606.2,218.8 605.9,217.5 605.6,216.3 605.4,215.1 605.2,214.3 601.8,214.7 601.8,215.5 601.8,216.7 602.0,218.2 602.2,219.9 602.7,221.6 603.5,223.2 604.5,224.7 605.4,226.2 606.3,227.6 607.1,228.9 607.7,230.5 608.4,232.4 609.1,234.2 609.7,235.9 610.1,237.1"/><circle cx="603.5" cy="214.5" r="2.20"/><polygon points="614.5,236.6 614.7,235.2 615.0,233.1 615.4,230.7 615.8,228.2 616.2,225.8 616.6,223.2 617.0,220.4 617.4,217.6 617.7,215.2 617.9,213.5 614.5,212.9 614.0,214.5 613.5,216.9 612.9,219.6 612.2,222.4 611.6,224.8 611.0,227.2 610.3,229.6 609.7,232.0 609.1,234.0 608.7,235.4"/><circle cx="616.2" cy="213.2" r="2.20"/><polygon points="609.2,237.4 608.2,236.2 606.8,234.4 605.1,232.4 603.4,230.4 601.8,228.6 600.1,226.9 598.4,225.3 596.8,223.9 595.4,222.7 594.4,221.8 592.0,224.2 592.9,225.2 594.2,226.5 595.6,228.1 597.1,229.8 598.4,231.4 599.8,233.3 601.3,235.4 602.7,237.5 603.9,239.3 604.8,240.6"/><circle cx="593.2" cy="223" r="2.10"/><polygon points="599.1,249.3 598.1,248.2 596.7,246.7 595.2,244.9 593.8,243.2 592.8,241.7 592.1,240.3 591.7,238.7 591.3,237.0 591.0,235.5 590.7,234.4 587.5,234.8 587.5,235.9 587.6,237.5 587.8,239.4 588.1,241.5 588.8,243.7 589.9,245.8 591.3,247.9 592.8,249.9 594.0,251.5 594.9,252.7"/><circle cx="589.1" cy="234.6" r="2.10"/><polygon points="591.6,240.6 590.3,240.4 588.4,240.0 586.3,239.6 584.2,239.1 582.4,238.5 580.7,237.8 578.8,236.8 577.1,235.8 575.5,234.9 574.4,234.3 572.6,237.1 573.7,237.8 575.1,238.9 576.9,240.1 578.9,241.3 580.8,242.3 582.9,243.1 585.1,243.9 587.3,244.5 589.1,245.0 590.4,245.4"/><circle cx="573.5" cy="235.7" r="2.10"/><polygon points="596.2,249.4 593.7,249.2 590.1,249.0 586.0,248.7 581.7,248.6 578.0,248.7 574.6,249.3 571.3,250.2 568.4,251.2 566.0,252.1 564.3,252.7 565.3,255.7 567.0,255.2 569.5,254.6 572.3,253.8 575.3,253.2 578.2,252.9 581.6,253.0 585.6,253.3 589.7,253.8 593.2,254.3 595.8,254.6"/><circle cx="564.8" cy="254.2" r="2.00"/><polygon points="596.4,256.4 594.7,256.2 592.3,256.0 589.4,255.7 586.5,255.5 583.9,255.6 581.4,255.8 579.0,256.3 576.8,256.9 575.0,257.4 573.8,257.8 574.4,261.0 575.8,260.8 577.6,260.5 579.7,260.2 581.9,259.9 583.9,259.8 586.2,260.0 588.9,260.4 591.6,260.9 594.0,261.3 595.6,261.6"/><circle cx="574.1" cy="259.4" r="2.10"/><polygon points="623.2,244.2 623.4,242.2 623.6,240.2 623.8,238.3 623.9,236.3 624.1,234.3 620.9,233.7 620.4,235.7 619.9,237.6 619.4,239.5 618.9,241.4 618.4,243.4"/><circle cx="622.5" cy="234" r="2.10"/><polygon points="624.4,246.7 625.1,246.0 625.8,245.4 626.6,244.7 627.3,244.1 628.0,243.4 626.4,240.8 625.5,241.2 624.6,241.6 623.7,241.9 622.7,242.3 621.8,242.7"/><circle cx="627.2" cy="242.1" r="2.00"/><polygon points="624.5,252.0 625.5,250.9 627.0,249.4 628.7,247.6 630.4,245.9 631.7,244.6 632.7,243.6 633.5,242.8 634.0,242.2 634.6,241.8 635.5,241.3 636.9,240.8 638.7,240.2 640.6,239.7 642.6,239.3 644.3,238.8 646.0,238.3 647.6,237.9 649.1,237.4 650.4,237.1 651.3,236.8 650.5,233.6 649.6,233.8 648.3,234.0 646.8,234.3 645.1,234.7 643.5,235.0 641.7,235.3 639.7,235.7 637.7,236.1 635.7,236.6 633.9,237.1 632.4,237.7 631.2,238.4 630.3,239.2 629.4,239.9 628.3,240.8 626.8,242.1 625.0,243.8 623.2,245.5 621.6,247.0 620.5,248.0"/><circle cx="650.9" cy="235.2" r="2.10"/><polygon points="632.3,242.2 632.0,240.9 631.5,238.9 630.9,236.7 630.4,234.5 630.0,232.6 629.5,231.0 629.1,229.5 628.8,228.1 628.5,227.0 628.2,226.1 625.0,226.9 625.1,227.7 625.3,228.9 625.5,230.3 625.8,231.8 626.0,233.4 626.4,235.3 626.8,237.5 627.2,239.8 627.5,241.8 627.7,243.2"/><circle cx="626.6" cy="226.5" r="2.10"/><polygon points="637.0,239.2 636.8,237.8 636.7,236.4 636.5,235.1 636.4,233.7 636.2,232.3 633.2,232.3 633.0,233.7 632.9,235.1 632.7,236.4 632.6,237.8 632.5,239.2"/><circle cx="634.7" cy="232.3" r="2.00"/><polygon points="625.5,258.2 626.6,257.4 628.2,256.2 630.0,254.9 631.7,253.7 633.3,252.8 634.7,252.2 636.3,251.7 637.8,251.2 639.2,250.9 640.2,250.6 639.6,247.4 638.6,247.5 637.2,247.6 635.4,247.8 633.5,248.2 631.5,248.8 629.5,249.7 627.4,250.9 625.4,252.1 623.7,253.1 622.5,253.8"/><circle cx="639.9" cy="249" r="2.10"/><polygon points="625.5,265.0 627.3,264.6 629.7,264.0 632.5,263.3 635.5,262.7 638.5,262.2 641.7,261.8 645.3,261.4 649.0,261.1 652.2,260.8 654.4,260.5 654.2,257.3 652.0,257.3 648.8,257.3 645.1,257.4 641.3,257.6 637.9,257.8 634.8,258.1 631.7,258.6 628.7,259.0 626.2,259.4 624.5,259.6"/><circle cx="654.3" cy="258.9" r="2.10"/><polygon points="625.6,271.3 627.3,271.0 629.8,270.5 632.6,270.1 635.7,269.6 638.8,269.3 642.2,269.2 646.2,269.3 650.2,269.4 653.7,269.4 656.1,269.4 656.3,266.2 653.9,265.9 650.4,265.6 646.3,265.3 642.3,265.0 638.6,264.9 635.4,264.9 632.1,265.1 629.1,265.4 626.6,265.6 624.8,265.7"/><circle cx="656.2" cy="267.8" r="2.10"/><polygon points="637.1,267.9 638.3,267.2 640.0,266.1 642.0,264.8 644.0,263.7 645.8,262.7 647.5,262.0 649.3,261.3 651.2,260.8 652.8,260.3 653.9,259.9 653.1,256.9 651.9,257.1 650.3,257.5 648.3,258.0 646.3,258.6 644.2,259.3 642.2,260.2 640.0,261.3 637.9,262.4 636.1,263.4 634.9,264.1"/><circle cx="653.5" cy="258.4" r="2.00"/><polygon points="626.6,279.9 629.6,279.8 632.5,279.6 635.5,279.3 638.4,279.1 641.4,278.9 641.4,275.4 638.4,275.2 635.5,275.1 632.5,274.8 629.6,274.6 626.6,274.4"/><circle cx="641.4" cy="277.2" r="2.20"/><polygon points="625.3,290.2 627.2,290.1 629.8,289.8 632.8,289.6 635.8,289.5 638.4,289.6 640.8,290.1 643.6,290.8 646.2,291.7 648.5,292.4 650.2,292.9 651.4,289.9 649.8,289.1 647.6,288.1 644.9,287.0 642.0,286.0 639.0,285.2 636.0,284.8 632.7,284.6 629.6,284.6 626.9,284.6 625.1,284.6"/><circle cx="650.8" cy="291.4" r="2.10"/><polygon points="635.2,289.5 635.6,290.5 636.2,291.9 636.9,293.5 637.6,295.2 638.1,296.6 638.5,297.9 638.9,299.3 639.2,300.6 639.5,301.7 639.8,302.5 643.0,301.9 642.9,301.0 642.8,299.9 642.5,298.5 642.3,296.9 641.9,295.4 641.5,293.8 640.9,292.1 640.4,290.4 639.9,288.9 639.6,287.9"/><circle cx="641.4" cy="302.2" r="2.10"/><polygon points="621.1,297.6 622.4,298.3 624.2,299.3 626.2,300.5 628.0,301.6 629.1,302.4 629.6,302.8 629.9,303.1 630.0,303.5 630.2,304.0 630.4,304.5 633.6,303.9 633.7,303.5 633.7,302.9 633.6,301.8 633.0,300.5 632.1,299.2 630.6,297.9 628.7,296.6 626.8,295.2 625.1,294.0 623.9,293.2"/><circle cx="632" cy="304.2" r="2.10"/><polygon points="616.4,302.6 617.4,303.6 618.8,304.9 620.3,306.5 621.9,308.3 623.4,310.1 624.9,312.3 626.5,315.0 628.1,317.8 629.5,320.2 630.5,321.9 633.5,320.3 632.6,318.5 631.4,316.0 630.0,313.1 628.5,310.2 627.0,307.7 625.6,305.5 624.0,303.4 622.6,301.6 621.4,300.1 620.6,299.0"/><circle cx="632" cy="321.1" r="2.10"/><polygon points="620.8,307.3 620.3,307.9 619.6,308.8 618.9,309.8 618.1,310.9 617.4,311.9 616.8,313.0 616.4,314.0 616.1,315.0 615.8,315.8 615.7,316.4 618.5,317.6 618.8,317.1 619.2,316.4 619.7,315.5 620.1,314.8 620.6,314.1 621.2,313.4 622.0,312.6 622.9,311.7 623.7,311.0 624.2,310.5"/><circle cx="617.1" cy="317" r="2.00"/><polygon points="607.9,299.4 607.4,300.5 606.6,302.2 605.6,304.1 604.6,306.2 603.9,308.3 603.4,310.3 603.2,312.3 603.1,314.2 603.1,315.7 603.1,316.8 606.3,317.2 606.6,316.1 606.9,314.6 607.2,312.9 607.6,311.2 608.1,309.7 608.9,308.3 609.9,306.5 611.1,304.8 612.1,303.3 612.9,302.2"/><circle cx="604.7" cy="317" r="2.10"/><polygon points="593.7,266.4 592.6,266.4 591.1,266.4 589.4,266.3 587.5,266.3 585.7,266.4 584.0,266.6 582.3,266.9 580.8,267.2 579.4,267.4 578.2,267.5 577.0,267.4 575.7,267.2 574.5,266.9 573.3,266.6 572.5,266.4 571.5,269.8 572.3,270.1 573.4,270.5 574.8,271.0 576.3,271.4 578.0,271.7 579.7,271.8 581.3,271.7 582.9,271.5 584.5,271.4 585.9,271.4 587.4,271.5 589.1,271.6 590.8,271.8 592.3,271.9 593.3,272.0"/><circle cx="572" cy="268.1" r="2.20"/><polygon points="578.6,269.3 577.9,270.2 577.0,271.5 575.9,272.9 574.8,274.3 573.7,275.4 572.3,276.5 570.7,277.7 569.0,278.8 567.5,279.8 566.4,280.5 568.2,283.5 569.3,282.9 570.9,282.0 572.8,281.0 574.6,279.8 576.3,278.6 577.8,277.2 579.2,275.7 580.5,274.3 581.5,273.1 582.2,272.3"/><circle cx="567.3" cy="282" r="2.20"/><polygon points="575.7,272.5 575.5,273.7 575.3,275.3 575.0,277.1 574.7,279.0 574.5,280.7 574.4,282.3 574.3,283.9 574.2,285.4 574.2,286.7 574.2,287.5 577.4,287.9 577.6,287.0 577.8,285.7 578.0,284.3 578.2,282.8 578.5,281.3 578.8,279.7 579.2,277.9 579.6,276.1 580.0,274.6 580.3,273.5"/><circle cx="575.8" cy="287.7" r="2.10"/><polygon points="594.0,275.3 593.0,275.3 591.7,275.4 590.1,275.5 588.4,275.8 586.8,276.1 585.5,276.8 584.3,277.6 583.5,278.4 582.9,279.1 582.4,279.5 584.6,282.1 585.1,281.7 585.8,281.2 586.6,280.7 587.3,280.3 588.0,280.1 588.9,280.0 590.3,280.0 591.7,280.0 593.1,280.1 594.0,280.1"/><circle cx="583.5" cy="280.8" r="2.10"/><polygon points="596.4,287.3 595.3,287.5 593.7,287.7 591.8,287.9 589.7,288.2 587.7,288.6 585.7,289.1 583.5,289.8 581.3,290.4 579.5,291.0 578.2,291.4 579.0,294.6 580.3,294.4 582.2,294.0 584.4,293.6 586.5,293.2 588.5,293.0 590.3,292.8 592.2,292.8 594.0,292.7 595.6,292.7 596.8,292.7"/><circle cx="578.6" cy="293" r="2.10"/><polygon points="604.7,292.1 603.0,292.6 600.6,293.3 597.8,294.1 594.9,295.0 592.2,295.8 589.7,296.5 587.1,297.3 584.5,298.0 582.0,298.8 579.6,299.5 577.4,300.3 575.4,301.0 573.6,301.7 571.8,302.3 570.0,302.6 567.8,302.8 565.2,302.7 562.6,302.5 560.2,302.3 558.6,302.2 558.2,305.6 559.8,305.9 562.2,306.2 564.9,306.5 567.7,306.8 570.4,306.8 572.7,306.5 574.9,305.9 576.9,305.3 578.9,304.7 581.0,304.1 583.3,303.5 585.8,302.9 588.4,302.3 591.0,301.7 593.6,301.0 596.3,300.4 599.3,299.6 602.1,298.9 604.6,298.3 606.3,297.9"/><circle cx="558.4" cy="303.9" r="2.20"/><polygon points="565.3,304.7 565.2,305.3 564.9,306.2 564.6,307.2 564.3,308.3 564.0,309.5 563.8,310.7 563.7,312.0 563.6,313.3 563.5,314.3 563.5,315.1 566.7,315.5 566.9,314.8 567.2,313.8 567.4,312.6 567.7,311.5 568.0,310.5 568.3,309.7 568.7,308.7 569.2,307.8 569.6,307.1 569.9,306.5"/><circle cx="565.1" cy="315.3" r="2.10"/><polygon points="579.7,300.9 579.6,301.5 579.3,302.3 579.0,303.3 578.7,304.4 578.5,305.5 578.4,306.6 578.3,307.8 578.3,308.9 578.2,309.8 578.3,310.4 581.5,310.8 581.7,310.1 581.9,309.3 582.0,308.3 582.3,307.3 582.5,306.5 582.8,305.7 583.2,304.8 583.6,304.0 584.0,303.2 584.3,302.7"/><circle cx="579.9" cy="310.6" r="2.10"/><polygon points="603.7,298.1 603.0,298.9 602.0,299.9 600.8,301.1 599.6,302.3 598.5,303.4 597.5,304.5 596.5,305.6 595.6,306.7 594.8,307.6 594.3,308.2 596.5,310.6 597.2,310.1 598.2,309.3 599.2,308.4 600.4,307.5 601.5,306.6 602.6,305.6 604.0,304.6 605.3,303.6 606.4,302.7 607.3,302.1"/><circle cx="595.4" cy="309.4" r="2.10"/></g><path d="M611,232C613,232.7 615.7,235.3 618,238C620.3,240.7 623.4,244 625,248C626.6,252 627.2,256.7 627.5,262C627.8,267.3 627.6,274.8 627,280C626.4,285.2 626,289.3 624,293C622,296.7 618.3,300.5 615,302C611.7,303.5 607.2,303.2 604,302C600.8,300.8 597.8,298.3 596,295C594.2,291.7 593.6,287 593,282C592.4,277 592.3,270.3 592.5,265C592.7,259.7 592.8,254.2 594,250C595.2,245.8 598,242.7 600,240C602,237.3 604.2,235.3 606,234C607.8,232.7 609,231.3 611,232Z" fill="#8a592a"/><ellipse cx="609.7" cy="269.5" rx="12.6" ry="19.9" transform="rotate(8 609.7 269.5)" fill="url(#boneNuc)"/><ellipse cx="612.7" cy="256.8" rx="2.5" ry="3" fill="#7a3418"/><ellipse cx="602.6" cy="262.9" rx="2.2" ry="3" fill="#7a3418"/><ellipse cx="615.1" cy="268.9" rx="2.5" ry="4" fill="#7a3418"/><ellipse cx="607.9" cy="268.9" rx="1.4" ry="1.4" fill="#7a3418"/><ellipse cx="607.9" cy="279.7" rx="3.5" ry="5" fill="#7a3418"/><ellipse cx="616.3" cy="277.3" rx="2" ry="2" fill="#7a3418"/><ellipse cx="615.1" cy="284.6" rx="1.5" ry="1.5" fill="#7a3418"/>
<path d="M163.5,385 L178.7,371.1 L181.3,391 L183,410 L182.2,429 L172.7,441.2 L166.6,449 Z" fill="#f3c6a2" stroke="#000" stroke-width="2" stroke-linejoin="round"/><g stroke="#000" stroke-width="1.6" fill="none"><path d="M165,403 L181.5,392.5"/><path d="M165.5,413.5 L182.5,402"/><path d="M166,424.5 L183,412"/><path d="M171,410 L172,441"/><path d="M176.5,406 L177.5,436"/></g><ellipse cx="178.2" cy="397.5" rx="2.6" ry="2.6" fill="none" stroke="#000" stroke-width="1.4"/><ellipse cx="178.7" cy="405.5" rx="1.8" ry="1.8" fill="#000"/><ellipse cx="175.3" cy="422.1" rx="1.8" ry="3.5" fill="#000"/><ellipse cx="179.6" cy="418.7" rx="1.8" ry="3" fill="#000"/><path d="M40.6,388 L163.8,383.5 L166.8,449.5 Q165,453.2 160,453.2 L46,453.4 Q41.6,453.2 41.8,448 Z" fill="#000"/><rect x="43.3" y="386.9" width="38.8" height="16.1" rx="3.2" fill="#eaa36b"/><rect x="84.5" y="386.9" width="34.5" height="16.1" rx="3.2" fill="#eaa36b"/><rect x="121.2" y="386.9" width="41.7" height="16.1" rx="3.2" fill="#eaa36b"/><rect x="43.3" y="405.1" width="19.0" height="8.9" rx="3.2" fill="#eaa36b"/><rect x="64.7" y="405.1" width="18.2" height="8.9" rx="3.2" fill="#eaa36b"/><rect x="85.2" y="405.1" width="20.7" height="8.9" rx="3.2" fill="#eaa36b"/><rect x="108.2" y="405.1" width="18.7" height="8.9" rx="3.2" fill="#eaa36b"/><rect x="129.2" y="405.1" width="18.2" height="8.9" rx="3.2" fill="#eaa36b"/><rect x="149.7" y="405.1" width="13.8" height="8.9" rx="3.2" fill="#eaa36b"/><rect x="43.5" y="416.1" width="14.0" height="7.5" rx="3.2" fill="#eaa36b"/><rect x="59.8" y="416.1" width="15.7" height="7.5" rx="3.2" fill="#eaa36b"/><rect x="77.8" y="416.1" width="14.5" height="7.5" rx="3.2" fill="#eaa36b"/><rect x="94.6" y="416.1" width="13.3" height="7.5" rx="3.2" fill="#eaa36b"/><rect x="110.2" y="416.1" width="14.7" height="7.5" rx="3.2" fill="#eaa36b"/><rect x="127.2" y="416.1" width="15.7" height="7.5" rx="3.2" fill="#eaa36b"/><rect x="145.2" y="416.1" width="18.8" height="7.5" rx="3.2" fill="#eaa36b"/><rect x="43.5" y="425.8" width="11.6" height="26.1" rx="3.2" fill="#eaa36b"/><rect x="57.4" y="425.8" width="9.5" height="26.1" rx="3.2" fill="#eaa36b"/><rect x="69.2" y="425.8" width="11.2" height="26.1" rx="3.2" fill="#eaa36b"/><rect x="82.8" y="425.8" width="10.7" height="26.1" rx="3.2" fill="#eaa36b"/><rect x="95.8" y="425.8" width="10.0" height="26.1" rx="3.2" fill="#eaa36b"/><rect x="108.1" y="425.8" width="7.0" height="26.1" rx="3.2" fill="#eaa36b"/><rect x="117.4" y="425.8" width="8.9" height="26.1" rx="3.2" fill="#eaa36b"/><rect x="128.6" y="425.8" width="9.5" height="26.1" rx="3.2" fill="#eaa36b"/><rect x="140.3" y="425.8" width="9.5" height="26.1" rx="3.2" fill="#eaa36b"/><rect x="152.2" y="425.8" width="12.6" height="26.1" rx="3.2" fill="#eaa36b"/><path d="M41.7,390.3 L41.2,377 Q43,370 52,369 L74,366.5 Q90,367 95.7,371.8 L83.3,385.6 Q60,386.5 41.7,390.3 Z" fill="#f3c6a2" stroke="#000" stroke-width="2" stroke-linejoin="round"/><path d="M83.3,385.6 L95.7,371.8 Q112,368.5 131,369 L120.1,385.3 Q100,384.5 83.3,385.6 Z" fill="#f3c6a2" stroke="#000" stroke-width="2" stroke-linejoin="round"/><path d="M120.1,385.3 L131,369 Q155,368.5 178.7,371.1 L163.8,384.5 Q140,384.8 120.1,385.3 Z" fill="#f3c6a2" stroke="#000" stroke-width="2" stroke-linejoin="round"/><path d="M78.5,385.5 L88,385 L84,395 Z" fill="#000"/><ellipse cx="62" cy="396.8" rx="10.1" ry="4.2" fill="#000"/><ellipse cx="101" cy="396.5" rx="10.4" ry="5" fill="#000"/><ellipse cx="146" cy="395.6" rx="11.2" ry="4.8" fill="#000"/><ellipse cx="53.5" cy="409" rx="5" ry="2.8" fill="#000"/><ellipse cx="73.5" cy="409.6" rx="4.8" ry="2.8" fill="#000"/><ellipse cx="95.3" cy="410.1" rx="5.3" ry="2.8" fill="#000"/><ellipse cx="118" cy="409.2" rx="4.5" ry="2.5" fill="#000"/><ellipse cx="139" cy="409" rx="3.7" ry="2.8" fill="#000"/><ellipse cx="159" cy="409" rx="3.7" ry="2.8" fill="#000"/><ellipse cx="50" cy="420.2" rx="3" ry="3" fill="#000"/><ellipse cx="66.8" cy="419.9" rx="3" ry="3" fill="#000"/><ellipse cx="86.2" cy="419.9" rx="3.2" ry="3" fill="#000"/><ellipse cx="99" cy="422" rx="1" ry="1" fill="#000"/><ellipse cx="117.8" cy="419.7" rx="3" ry="3" fill="#000"/><ellipse cx="135.3" cy="419.7" rx="3" ry="3" fill="#000"/><ellipse cx="155.5" cy="419.7" rx="5.6" ry="2.3" fill="#000"/><ellipse cx="49.6" cy="439.6" rx="3.4" ry="7" fill="#000"/><ellipse cx="62" cy="437.6" rx="4" ry="5" fill="#000"/><ellipse cx="74.7" cy="437.7" rx="3.7" ry="5.6" fill="#000"/><ellipse cx="87.8" cy="442.4" rx="3.9" ry="4.2" fill="#000"/><ellipse cx="101" cy="441.3" rx="2.5" ry="5.3" fill="#000"/><ellipse cx="111.5" cy="440.4" rx="2.2" ry="5.6" fill="#000"/><ellipse cx="121" cy="437.1" rx="3.1" ry="5.6" fill="#000"/><ellipse cx="133" cy="440.4" rx="2.8" ry="5.6" fill="#000"/><ellipse cx="145.4" cy="443.5" rx="3.4" ry="4.8" fill="#000"/><ellipse cx="157.8" cy="438.2" rx="3.9" ry="5" fill="#000"/>
<g stroke="#000" stroke-width="2.3" stroke-linejoin="round" fill="#000"><polygon points="289.3,426.6 288.4,424.1 287.2,420.3 285.9,416.3 284.5,412.8 283.2,410.1 281.9,407.9 280.7,406.0 279.5,404.4 278.3,402.7 277.1,401.0 275.8,399.3 274.4,397.7 272.9,396.1 271.2,394.7 269.6,393.4 268.0,392.3 266.4,391.4 264.8,390.7 263.2,390.2 261.5,389.9 259.7,390.0 258.0,390.2 256.5,390.6 255.5,390.9 255.5,391.9 256.6,392.1 258.1,392.2 259.6,392.5 260.9,392.9 262.0,393.4 263.1,394.1 264.2,394.9 265.2,395.9 266.4,397.1 267.5,398.4 268.6,399.9 269.6,401.3 270.4,402.8 271.0,404.5 271.7,406.3 272.5,408.2 273.4,410.2 274.2,412.0 275.0,413.8 275.7,416.0 276.5,419.1 277.4,423.1 278.2,426.8 278.7,429.4"/><polygon points="268.2,393.3 267.4,391.9 266.3,389.7 265.0,387.4 263.8,385.3 262.8,383.6 261.8,382.1 260.8,380.5 259.6,378.7 258.2,376.2 256.6,373.2 255.1,370.3 253.9,368.1 253.0,366.8 252.4,366.1 251.9,365.7 251.5,365.5 251.5,365.5 251.5,366.0 251.6,366.5 251.8,367.4 252.3,368.9 253.3,371.2 254.7,374.2 256.1,377.2 257.4,379.9 258.4,381.9 259.4,383.6 260.3,385.1 261.2,386.7 262.2,388.8 263.3,391.2 264.3,393.4 265.0,394.9"/><polygon points="269.7,392.9 269.6,390.3 269.3,386.6 269.1,382.6 268.8,379.2 268.5,376.7 268.3,374.7 268.0,372.8 267.8,371.1 267.5,369.4 267.2,367.8 266.9,366.3 266.6,365.0 266.3,363.8 266.0,362.6 265.8,361.7 265.5,361.0 265.5,361.0 265.4,361.7 265.3,362.7 265.2,363.9 265.2,365.2 265.2,366.5 265.3,368.0 265.3,369.6 265.4,371.3 265.5,373.1 265.6,374.9 265.7,376.9 265.8,379.4 265.9,382.7 266.1,386.7 266.2,390.5 266.3,393.1"/><polygon points="267.3,371.5 268.0,369.4 268.6,367.2 269.3,365.1 270.0,363.0 270.0,363.0 269.0,365.0 268.0,367.0 266.9,368.9 265.9,370.9"/><polygon points="259.2,379.0 258.4,377.5 257.6,376.0 256.8,374.5 256.0,373.0 256.0,373.0 256.5,374.6 256.9,376.3 257.4,377.9 257.8,379.6"/><polygon points="276.2,396.2 276.3,393.6 276.5,389.9 276.8,385.8 277.0,382.2 277.2,379.2 277.3,376.5 277.6,374.0 277.9,371.5 278.5,368.6 279.2,365.7 280.0,362.9 280.7,360.6 281.1,358.9 281.5,357.7 281.8,356.7 282.0,356.0 282.0,356.0 281.6,356.6 281.0,357.4 280.3,358.6 279.5,360.2 278.6,362.4 277.5,365.1 276.4,368.1 275.5,370.9 274.9,373.6 274.5,376.3 274.2,378.9 273.8,381.8 273.3,385.4 272.7,389.5 272.2,393.2 271.8,395.8"/><polygon points="277.3,373.7 276.7,372.5 275.9,370.6 275.1,368.6 274.4,367.0 273.8,365.7 273.3,364.5 272.8,363.6 272.5,363.0 272.5,363.0 272.7,363.7 272.9,364.7 273.2,365.9 273.6,367.2 274.1,369.0 274.8,371.0 275.4,372.9 275.7,374.3"/><polygon points="278.4,395.1 279.9,392.9 282.1,389.7 284.6,386.2 286.6,382.6 288.2,379.0 289.5,375.1 290.6,371.5 291.5,368.7 292.0,366.8 292.3,365.5 292.4,364.6 292.5,364.0 292.5,364.0 292.2,364.6 291.8,365.3 291.2,366.5 290.3,368.3 289.2,371.0 287.7,374.4 286.1,378.1 284.4,381.4 282.2,384.6 279.7,387.9 277.3,390.9 275.6,392.9"/><polygon points="284.6,386.6 286.3,385.0 288.1,383.3 289.8,381.7 291.5,380.0 291.5,380.0 289.5,381.3 287.5,382.7 285.6,384.0 283.6,385.4"/><polygon points="302.0,427.3 301.3,424.8 300.6,421.1 299.7,417.0 298.8,413.5 297.8,410.8 296.7,408.9 295.8,407.4 295.1,405.7 294.6,403.4 294.2,400.7 293.9,397.9 293.7,395.6 293.8,393.8 294.0,392.3 294.3,390.9 294.8,389.4 295.3,387.8 296.0,386.2 296.8,384.6 297.7,382.9 298.8,381.3 300.0,379.6 301.4,377.8 302.7,376.0 304.0,374.1 305.3,372.2 306.5,370.4 307.5,368.9 308.1,367.7 308.6,366.7 308.8,366.0 309.0,365.5 309.0,365.5 308.6,365.9 308.1,366.4 307.4,367.2 306.5,368.1 305.3,369.4 303.8,371.0 302.2,372.7 300.7,374.4 299.2,376.0 297.7,377.6 296.2,379.3 294.9,381.1 293.7,382.8 292.7,384.5 291.8,386.3 291.0,388.0 290.4,389.7 289.9,391.4 289.5,393.3 289.3,395.4 289.0,398.0 289.0,401.0 289.0,404.0 289.3,406.9 289.7,409.4 290.2,411.5 290.7,413.3 291.0,415.3 291.3,418.4 291.7,422.4 291.9,426.1 292.0,428.7"/><polygon points="293.7,391.2 295.0,390.4 297.0,389.3 299.0,388.1 300.7,387.0 301.7,386.2 302.2,385.6 302.5,385.2 303.4,384.7 305.4,383.8 308.0,382.8 310.6,381.9 312.6,381.1 313.6,380.6 314.1,380.2 314.3,380.0 314.5,379.8 314.5,379.8 314.2,379.8 313.9,379.8 313.4,379.9 312.2,380.1 310.2,380.6 307.5,381.3 304.8,382.0 302.6,382.7 301.3,383.4 300.5,384.0 300.1,384.4 299.3,385.0 297.7,385.9 295.7,387.0 293.7,388.1 292.3,388.8"/><polygon points="297.2,382.5 297.6,381.5 298.2,380.1 298.9,378.6 299.5,377.2 299.8,376.0 300.1,374.8 300.2,373.7 300.3,373.0 300.3,373.0 300.0,373.7 299.6,374.6 299.1,375.7 298.5,376.8 297.8,378.0 296.9,379.4 296.1,380.6 295.4,381.5"/><polygon points="302.5,374.9 302.0,374.0 301.5,372.6 300.9,371.1 300.4,369.9 300.1,369.0 299.8,368.1 299.7,367.5 299.5,367.0 299.5,367.0 299.5,367.5 299.4,368.2 299.5,369.1 299.6,370.1 299.9,371.4 300.3,373.0 300.7,374.4 300.9,375.5"/><polygon points="280.2,434.3 277.0,434.4 272.4,434.3 267.6,434.3 263.7,434.6 261.2,435.4 259.7,436.6 259.0,437.5 258.2,438.1 256.5,438.4 254.3,438.6 252.1,438.7 250.4,438.8 249.3,438.9 248.7,439.1 248.3,439.2 248.0,439.3 248.0,439.3 248.3,439.4 248.7,439.6 249.3,439.7 250.4,439.8 252.1,440.1 254.2,440.3 256.6,440.6 258.8,440.5 260.6,439.9 261.7,439.2 262.5,438.8 264.1,438.6 267.5,438.8 272.1,439.3 276.7,439.8 279.8,440.3"/><polygon points="262.1,434.5 261.0,434.6 259.8,434.7 258.9,434.7 258.4,434.4 257.9,433.1 257.5,430.8 257.3,428.0 257.1,425.0 256.9,421.3 256.9,417.2 256.8,413.2 256.8,410.0 256.6,407.9 256.3,406.6 256.1,405.7 255.8,405.0 255.8,405.0 255.6,405.7 255.3,406.6 255.1,407.9 254.8,410.0 254.7,413.1 254.6,417.2 254.5,421.4 254.5,425.0 254.6,428.2 254.8,431.1 255.1,433.7 255.8,436.0 257.5,437.6 259.5,438.2 261.0,438.3 261.9,438.5"/><polygon points="279.2,426.9 277.5,426.8 275.0,426.7 272.3,426.5 270.1,426.4 268.5,426.4 267.3,426.4 266.3,426.4 265.3,426.4 264.3,426.4 263.4,426.4 262.6,426.4 262.0,426.5 262.0,426.5 262.5,426.8 263.2,427.1 264.1,427.5 265.1,427.8 266.1,428.0 267.2,428.2 268.4,428.4 269.9,428.6 272.0,428.9 274.6,429.4 277.1,429.8 278.8,430.1"/><polygon points="261.5,437.7 261.1,439.0 260.7,441.0 260.1,443.0 259.5,444.7 258.8,446.0 257.9,447.2 257.0,448.2 256.5,449.0 256.5,449.0 257.3,448.5 258.3,447.6 259.5,446.6 260.5,445.3 261.4,443.6 262.3,441.5 263.0,439.6 263.5,438.3"/><polygon points="280.4,441.9 278.9,442.9 276.6,444.4 274.2,445.9 271.9,447.2 270.1,448.2 268.3,449.1 266.5,450.0 264.5,450.9 261.9,452.2 259.0,453.6 256.3,454.9 254.1,456.1 252.7,456.9 251.8,457.5 251.3,458.1 251.0,458.5 251.0,458.5 251.5,458.4 252.2,458.3 253.2,458.0 254.7,457.5 257.0,457.0 260.0,456.2 263.1,455.4 265.9,454.7 268.1,453.9 270.1,453.3 272.0,452.6 274.1,451.8 276.6,450.8 279.3,449.7 281.8,448.7 283.6,448.1"/><polygon points="264.7,452.0 263.8,453.4 262.5,455.2 261.1,457.4 259.9,459.4 259.2,460.9 258.9,462.2 258.5,463.7 257.6,465.9 255.9,469.6 253.7,474.3 251.6,478.9 250.0,482.3 249.4,484.0 249.2,484.7 249.4,484.9 249.5,485.0 249.5,485.0 249.6,484.8 249.6,484.8 249.9,484.3 250.8,482.7 252.5,479.4 255.0,475.0 257.5,470.4 259.4,466.7 260.5,464.4 261.0,462.9 261.5,461.9 262.1,460.6 263.3,458.9 264.8,457.0 266.3,455.2 267.3,454.0"/><polygon points="268.7,450.8 268.5,452.4 268.2,454.7 267.8,457.3 267.5,459.9 267.4,462.3 267.3,464.8 267.2,467.4 267.2,470.0 267.3,472.9 267.5,476.1 267.7,479.0 267.9,481.0 267.9,481.0 268.1,479.0 268.2,476.1 268.4,472.9 268.6,470.0 268.8,467.4 269.0,464.9 269.2,462.5 269.5,460.1 269.9,457.6 270.4,455.1 270.9,452.8 271.3,451.2"/><polygon points="284.0,445.5 284.0,448.1 283.8,451.8 283.6,455.7 283.3,459.0 282.9,461.7 282.3,464.1 281.8,466.4 281.3,468.6 281.1,470.7 281.0,472.6 280.9,474.3 280.9,475.6 280.9,476.6 280.9,477.2 280.9,477.7 281.0,478.0 281.0,478.0 281.2,477.7 281.4,477.3 281.6,476.7 281.9,475.8 282.4,474.5 282.9,473.0 283.6,471.2 284.3,469.4 285.0,467.4 285.9,465.2 286.8,462.8 287.7,460.0 288.6,456.5 289.5,452.6 290.3,448.9 291.0,446.5"/><polygon points="282.5,465.3 281.4,466.1 279.8,467.3 278.2,468.6 276.7,469.6 275.7,470.3 274.7,470.9 273.9,471.3 273.3,471.7 273.3,471.7 274.0,471.6 274.9,471.3 276.0,471.0 277.3,470.4 278.8,469.6 280.6,468.5 282.3,467.4 283.5,466.7"/><polygon points="292.5,446.5 293.0,448.1 293.7,450.4 294.3,453.0 294.9,455.2 295.1,456.9 295.2,458.4 295.3,460.0 295.4,462.2 295.7,465.4 295.9,469.3 296.2,473.0 296.4,475.7 296.5,477.1 296.6,477.7 296.8,477.8 296.9,478.0 296.9,478.0 297.0,477.8 297.1,477.7 297.3,477.1 297.4,475.7 297.7,473.0 297.9,469.3 298.2,465.4 298.4,462.2 298.4,460.0 298.5,458.3 298.5,456.7 298.3,454.8 298.2,452.3 297.9,449.7 297.6,447.2 297.5,445.5"/><polygon points="299.1,443.6 299.8,444.2 300.7,445.2 301.8,446.3 302.9,447.3 303.9,448.3 305.0,449.4 306.2,450.4 307.6,451.4 309.2,451.9 310.9,452.3 312.4,452.5 313.7,452.6 314.5,452.7 315.2,452.7 315.7,452.6 316.0,452.5 316.0,452.5 315.7,452.3 315.3,452.2 314.7,452.0 313.9,451.6 312.9,451.0 311.5,450.4 310.2,449.6 309.2,448.8 308.4,448.0 307.6,447.0 306.7,445.8 305.9,444.7 305.0,443.5 304.2,442.3 303.4,441.2 302.9,440.4"/><polygon points="296.7,446.7 297.9,448.9 299.6,452.2 301.5,455.8 303.4,458.8 305.4,461.3 307.4,463.5 309.3,465.3 310.7,466.6 311.6,467.5 312.0,467.8 312.3,467.9 312.5,468.0 312.5,468.0 312.5,467.8 312.4,467.5 312.1,467.0 311.5,466.0 310.3,464.4 308.7,462.3 307.0,460.0 305.4,457.6 303.7,454.5 302.0,451.0 300.4,447.7 299.3,445.3"/><path d="M281.5,421C284.3,419.9 286.4,421.6 289,421.5C291.6,421.4 294.8,420.1 297,420.5C299.2,420.9 300.3,422.9 302,424C303.7,425.1 305.2,426.3 307,427.1C308.8,427.9 312.1,428.1 313,429C313.9,429.9 313.9,430.8 312.5,432.5C311.1,434.2 306.5,437.2 304.4,439.3C302.3,441.4 302.1,443.4 300,445C297.9,446.6 294.8,448.3 292,449C289.2,449.7 285.7,449.7 283,449C280.3,448.3 278,447 276,445C274,443 271.7,439.8 271,437C270.3,434.2 270.2,430.7 272,428C273.8,425.3 278.7,422.1 281.5,421Z"/></g><g fill="#b4ade0"><polygon points="289.3,426.6 288.4,424.1 287.2,420.3 285.9,416.3 284.5,412.8 283.2,410.1 281.9,407.9 280.7,406.0 279.5,404.4 278.3,402.7 277.1,401.0 275.8,399.3 274.4,397.7 272.9,396.1 271.2,394.7 269.6,393.4 268.0,392.3 266.4,391.4 264.8,390.7 263.2,390.2 261.5,389.9 259.7,390.0 258.0,390.2 256.5,390.6 255.5,390.9 255.5,391.9 256.6,392.1 258.1,392.2 259.6,392.5 260.9,392.9 262.0,393.4 263.1,394.1 264.2,394.9 265.2,395.9 266.4,397.1 267.5,398.4 268.6,399.9 269.6,401.3 270.4,402.8 271.0,404.5 271.7,406.3 272.5,408.2 273.4,410.2 274.2,412.0 275.0,413.8 275.7,416.0 276.5,419.1 277.4,423.1 278.2,426.8 278.7,429.4"/><polygon points="268.2,393.3 267.4,391.9 266.3,389.7 265.0,387.4 263.8,385.3 262.8,383.6 261.8,382.1 260.8,380.5 259.6,378.7 258.2,376.2 256.6,373.2 255.1,370.3 253.9,368.1 253.0,366.8 252.4,366.1 251.9,365.7 251.5,365.5 251.5,365.5 251.5,366.0 251.6,366.5 251.8,367.4 252.3,368.9 253.3,371.2 254.7,374.2 256.1,377.2 257.4,379.9 258.4,381.9 259.4,383.6 260.3,385.1 261.2,386.7 262.2,388.8 263.3,391.2 264.3,393.4 265.0,394.9"/><polygon points="269.7,392.9 269.6,390.3 269.3,386.6 269.1,382.6 268.8,379.2 268.5,376.7 268.3,374.7 268.0,372.8 267.8,371.1 267.5,369.4 267.2,367.8 266.9,366.3 266.6,365.0 266.3,363.8 266.0,362.6 265.8,361.7 265.5,361.0 265.5,361.0 265.4,361.7 265.3,362.7 265.2,363.9 265.2,365.2 265.2,366.5 265.3,368.0 265.3,369.6 265.4,371.3 265.5,373.1 265.6,374.9 265.7,376.9 265.8,379.4 265.9,382.7 266.1,386.7 266.2,390.5 266.3,393.1"/><polygon points="267.3,371.5 268.0,369.4 268.6,367.2 269.3,365.1 270.0,363.0 270.0,363.0 269.0,365.0 268.0,367.0 266.9,368.9 265.9,370.9"/><polygon points="259.2,379.0 258.4,377.5 257.6,376.0 256.8,374.5 256.0,373.0 256.0,373.0 256.5,374.6 256.9,376.3 257.4,377.9 257.8,379.6"/><polygon points="276.2,396.2 276.3,393.6 276.5,389.9 276.8,385.8 277.0,382.2 277.2,379.2 277.3,376.5 277.6,374.0 277.9,371.5 278.5,368.6 279.2,365.7 280.0,362.9 280.7,360.6 281.1,358.9 281.5,357.7 281.8,356.7 282.0,356.0 282.0,356.0 281.6,356.6 281.0,357.4 280.3,358.6 279.5,360.2 278.6,362.4 277.5,365.1 276.4,368.1 275.5,370.9 274.9,373.6 274.5,376.3 274.2,378.9 273.8,381.8 273.3,385.4 272.7,389.5 272.2,393.2 271.8,395.8"/><polygon points="277.3,373.7 276.7,372.5 275.9,370.6 275.1,368.6 274.4,367.0 273.8,365.7 273.3,364.5 272.8,363.6 272.5,363.0 272.5,363.0 272.7,363.7 272.9,364.7 273.2,365.9 273.6,367.2 274.1,369.0 274.8,371.0 275.4,372.9 275.7,374.3"/><polygon points="278.4,395.1 279.9,392.9 282.1,389.7 284.6,386.2 286.6,382.6 288.2,379.0 289.5,375.1 290.6,371.5 291.5,368.7 292.0,366.8 292.3,365.5 292.4,364.6 292.5,364.0 292.5,364.0 292.2,364.6 291.8,365.3 291.2,366.5 290.3,368.3 289.2,371.0 287.7,374.4 286.1,378.1 284.4,381.4 282.2,384.6 279.7,387.9 277.3,390.9 275.6,392.9"/><polygon points="284.6,386.6 286.3,385.0 288.1,383.3 289.8,381.7 291.5,380.0 291.5,380.0 289.5,381.3 287.5,382.7 285.6,384.0 283.6,385.4"/><polygon points="302.0,427.3 301.3,424.8 300.6,421.1 299.7,417.0 298.8,413.5 297.8,410.8 296.7,408.9 295.8,407.4 295.1,405.7 294.6,403.4 294.2,400.7 293.9,397.9 293.7,395.6 293.8,393.8 294.0,392.3 294.3,390.9 294.8,389.4 295.3,387.8 296.0,386.2 296.8,384.6 297.7,382.9 298.8,381.3 300.0,379.6 301.4,377.8 302.7,376.0 304.0,374.1 305.3,372.2 306.5,370.4 307.5,368.9 308.1,367.7 308.6,366.7 308.8,366.0 309.0,365.5 309.0,365.5 308.6,365.9 308.1,366.4 307.4,367.2 306.5,368.1 305.3,369.4 303.8,371.0 302.2,372.7 300.7,374.4 299.2,376.0 297.7,377.6 296.2,379.3 294.9,381.1 293.7,382.8 292.7,384.5 291.8,386.3 291.0,388.0 290.4,389.7 289.9,391.4 289.5,393.3 289.3,395.4 289.0,398.0 289.0,401.0 289.0,404.0 289.3,406.9 289.7,409.4 290.2,411.5 290.7,413.3 291.0,415.3 291.3,418.4 291.7,422.4 291.9,426.1 292.0,428.7"/><polygon points="293.7,391.2 295.0,390.4 297.0,389.3 299.0,388.1 300.7,387.0 301.7,386.2 302.2,385.6 302.5,385.2 303.4,384.7 305.4,383.8 308.0,382.8 310.6,381.9 312.6,381.1 313.6,380.6 314.1,380.2 314.3,380.0 314.5,379.8 314.5,379.8 314.2,379.8 313.9,379.8 313.4,379.9 312.2,380.1 310.2,380.6 307.5,381.3 304.8,382.0 302.6,382.7 301.3,383.4 300.5,384.0 300.1,384.4 299.3,385.0 297.7,385.9 295.7,387.0 293.7,388.1 292.3,388.8"/><polygon points="297.2,382.5 297.6,381.5 298.2,380.1 298.9,378.6 299.5,377.2 299.8,376.0 300.1,374.8 300.2,373.7 300.3,373.0 300.3,373.0 300.0,373.7 299.6,374.6 299.1,375.7 298.5,376.8 297.8,378.0 296.9,379.4 296.1,380.6 295.4,381.5"/><polygon points="302.5,374.9 302.0,374.0 301.5,372.6 300.9,371.1 300.4,369.9 300.1,369.0 299.8,368.1 299.7,367.5 299.5,367.0 299.5,367.0 299.5,367.5 299.4,368.2 299.5,369.1 299.6,370.1 299.9,371.4 300.3,373.0 300.7,374.4 300.9,375.5"/><polygon points="280.2,434.3 277.0,434.4 272.4,434.3 267.6,434.3 263.7,434.6 261.2,435.4 259.7,436.6 259.0,437.5 258.2,438.1 256.5,438.4 254.3,438.6 252.1,438.7 250.4,438.8 249.3,438.9 248.7,439.1 248.3,439.2 248.0,439.3 248.0,439.3 248.3,439.4 248.7,439.6 249.3,439.7 250.4,439.8 252.1,440.1 254.2,440.3 256.6,440.6 258.8,440.5 260.6,439.9 261.7,439.2 262.5,438.8 264.1,438.6 267.5,438.8 272.1,439.3 276.7,439.8 279.8,440.3"/><polygon points="262.1,434.5 261.0,434.6 259.8,434.7 258.9,434.7 258.4,434.4 257.9,433.1 257.5,430.8 257.3,428.0 257.1,425.0 256.9,421.3 256.9,417.2 256.8,413.2 256.8,410.0 256.6,407.9 256.3,406.6 256.1,405.7 255.8,405.0 255.8,405.0 255.6,405.7 255.3,406.6 255.1,407.9 254.8,410.0 254.7,413.1 254.6,417.2 254.5,421.4 254.5,425.0 254.6,428.2 254.8,431.1 255.1,433.7 255.8,436.0 257.5,437.6 259.5,438.2 261.0,438.3 261.9,438.5"/><polygon points="279.2,426.9 277.5,426.8 275.0,426.7 272.3,426.5 270.1,426.4 268.5,426.4 267.3,426.4 266.3,426.4 265.3,426.4 264.3,426.4 263.4,426.4 262.6,426.4 262.0,426.5 262.0,426.5 262.5,426.8 263.2,427.1 264.1,427.5 265.1,427.8 266.1,428.0 267.2,428.2 268.4,428.4 269.9,428.6 272.0,428.9 274.6,429.4 277.1,429.8 278.8,430.1"/><polygon points="261.5,437.7 261.1,439.0 260.7,441.0 260.1,443.0 259.5,444.7 258.8,446.0 257.9,447.2 257.0,448.2 256.5,449.0 256.5,449.0 257.3,448.5 258.3,447.6 259.5,446.6 260.5,445.3 261.4,443.6 262.3,441.5 263.0,439.6 263.5,438.3"/><polygon points="280.4,441.9 278.9,442.9 276.6,444.4 274.2,445.9 271.9,447.2 270.1,448.2 268.3,449.1 266.5,450.0 264.5,450.9 261.9,452.2 259.0,453.6 256.3,454.9 254.1,456.1 252.7,456.9 251.8,457.5 251.3,458.1 251.0,458.5 251.0,458.5 251.5,458.4 252.2,458.3 253.2,458.0 254.7,457.5 257.0,457.0 260.0,456.2 263.1,455.4 265.9,454.7 268.1,453.9 270.1,453.3 272.0,452.6 274.1,451.8 276.6,450.8 279.3,449.7 281.8,448.7 283.6,448.1"/><polygon points="264.7,452.0 263.8,453.4 262.5,455.2 261.1,457.4 259.9,459.4 259.2,460.9 258.9,462.2 258.5,463.7 257.6,465.9 255.9,469.6 253.7,474.3 251.6,478.9 250.0,482.3 249.4,484.0 249.2,484.7 249.4,484.9 249.5,485.0 249.5,485.0 249.6,484.8 249.6,484.8 249.9,484.3 250.8,482.7 252.5,479.4 255.0,475.0 257.5,470.4 259.4,466.7 260.5,464.4 261.0,462.9 261.5,461.9 262.1,460.6 263.3,458.9 264.8,457.0 266.3,455.2 267.3,454.0"/><polygon points="268.7,450.8 268.5,452.4 268.2,454.7 267.8,457.3 267.5,459.9 267.4,462.3 267.3,464.8 267.2,467.4 267.2,470.0 267.3,472.9 267.5,476.1 267.7,479.0 267.9,481.0 267.9,481.0 268.1,479.0 268.2,476.1 268.4,472.9 268.6,470.0 268.8,467.4 269.0,464.9 269.2,462.5 269.5,460.1 269.9,457.6 270.4,455.1 270.9,452.8 271.3,451.2"/><polygon points="284.0,445.5 284.0,448.1 283.8,451.8 283.6,455.7 283.3,459.0 282.9,461.7 282.3,464.1 281.8,466.4 281.3,468.6 281.1,470.7 281.0,472.6 280.9,474.3 280.9,475.6 280.9,476.6 280.9,477.2 280.9,477.7 281.0,478.0 281.0,478.0 281.2,477.7 281.4,477.3 281.6,476.7 281.9,475.8 282.4,474.5 282.9,473.0 283.6,471.2 284.3,469.4 285.0,467.4 285.9,465.2 286.8,462.8 287.7,460.0 288.6,456.5 289.5,452.6 290.3,448.9 291.0,446.5"/><polygon points="282.5,465.3 281.4,466.1 279.8,467.3 278.2,468.6 276.7,469.6 275.7,470.3 274.7,470.9 273.9,471.3 273.3,471.7 273.3,471.7 274.0,471.6 274.9,471.3 276.0,471.0 277.3,470.4 278.8,469.6 280.6,468.5 282.3,467.4 283.5,466.7"/><polygon points="292.5,446.5 293.0,448.1 293.7,450.4 294.3,453.0 294.9,455.2 295.1,456.9 295.2,458.4 295.3,460.0 295.4,462.2 295.7,465.4 295.9,469.3 296.2,473.0 296.4,475.7 296.5,477.1 296.6,477.7 296.8,477.8 296.9,478.0 296.9,478.0 297.0,477.8 297.1,477.7 297.3,477.1 297.4,475.7 297.7,473.0 297.9,469.3 298.2,465.4 298.4,462.2 298.4,460.0 298.5,458.3 298.5,456.7 298.3,454.8 298.2,452.3 297.9,449.7 297.6,447.2 297.5,445.5"/><polygon points="299.1,443.6 299.8,444.2 300.7,445.2 301.8,446.3 302.9,447.3 303.9,448.3 305.0,449.4 306.2,450.4 307.6,451.4 309.2,451.9 310.9,452.3 312.4,452.5 313.7,452.6 314.5,452.7 315.2,452.7 315.7,452.6 316.0,452.5 316.0,452.5 315.7,452.3 315.3,452.2 314.7,452.0 313.9,451.6 312.9,451.0 311.5,450.4 310.2,449.6 309.2,448.8 308.4,448.0 307.6,447.0 306.7,445.8 305.9,444.7 305.0,443.5 304.2,442.3 303.4,441.2 302.9,440.4"/><polygon points="296.7,446.7 297.9,448.9 299.6,452.2 301.5,455.8 303.4,458.8 305.4,461.3 307.4,463.5 309.3,465.3 310.7,466.6 311.6,467.5 312.0,467.8 312.3,467.9 312.5,468.0 312.5,468.0 312.5,467.8 312.4,467.5 312.1,467.0 311.5,466.0 310.3,464.4 308.7,462.3 307.0,460.0 305.4,457.6 303.7,454.5 302.0,451.0 300.4,447.7 299.3,445.3"/><path d="M281.5,421C284.3,419.9 286.4,421.6 289,421.5C291.6,421.4 294.8,420.1 297,420.5C299.2,420.9 300.3,422.9 302,424C303.7,425.1 305.2,426.3 307,427.1C308.8,427.9 312.1,428.1 313,429C313.9,429.9 313.9,430.8 312.5,432.5C311.1,434.2 306.5,437.2 304.4,439.3C302.3,441.4 302.1,443.4 300,445C297.9,446.6 294.8,448.3 292,449C289.2,449.7 285.7,449.7 283,449C280.3,448.3 278,447 276,445C274,443 271.7,439.8 271,437C270.3,434.2 270.2,430.7 272,428C273.8,425.3 278.7,422.1 281.5,421Z"/></g><g fill="#000"><polygon points="254.5,368.4 250.3,363.3 252.2,369.6"/><polygon points="267.2,364.9 265.3,358.5 264.6,365.1"/><polygon points="269.7,367.2 271.0,360.7 267.3,366.2"/><polygon points="258.7,376.2 255.1,370.7 256.3,377.2"/><polygon points="281.6,360.2 283.0,353.7 279.2,359.2"/><polygon points="275.1,366.3 271.6,360.7 272.7,367.2"/><polygon points="292.4,368.2 293.3,361.6 289.9,367.3"/><polygon points="289.2,383.5 293.4,378.4 287.6,381.5"/><polygon points="307.9,369.5 310.4,363.4 305.7,368.1"/><polygon points="311.2,382.4 316.8,378.9 310.3,380.0"/><polygon points="300.3,377.2 301.1,370.6 297.8,376.4"/><polygon points="301.4,370.7 299.1,364.5 298.9,371.2"/><polygon points="252.0,438.0 245.5,439.3 252.0,440.6"/><polygon points="257.1,409.0 255.8,402.5 254.5,409.0"/><polygon points="266.2,426.0 259.5,426.0 265.7,428.5"/><polygon points="258.2,445.1 254.9,450.9 260.1,446.8"/><polygon points="254.0,455.5 248.8,459.6 255.2,457.9"/><polygon points="249.6,480.8 248.7,487.4 252.1,481.7"/><polygon points="266.6,477.0 267.9,483.5 269.2,477.0"/><polygon points="280.4,473.8 280.6,480.5 283.0,474.3"/><polygon points="276.4,468.8 271.0,472.7 277.5,471.2"/><polygon points="295.6,474.0 296.9,480.5 298.2,474.0"/><polygon points="311.8,453.1 318.5,452.9 312.3,450.5"/><polygon points="309.0,465.7 314.1,469.9 311.0,464.1"/></g><ellipse cx="291.5" cy="436.6" rx="4.1" ry="5.8" transform="rotate(-20 291.5 436.6)" fill="#4a9868" stroke="#1a3a26" stroke-width="0.9"/><g stroke="#000" stroke-width="2" stroke-linejoin="round" fill="#000"><polygon points="414.2,406.6 415.1,403.9 416.5,400.0 417.9,395.6 419.0,391.6 419.5,388.1 419.7,384.7 419.8,381.6 420.0,378.9 420.2,376.6 420.5,374.4 420.7,372.7 420.9,371.5 419.1,371.1 418.8,372.4 418.4,374.1 418.0,376.2 417.6,378.7 417.3,381.4 417.0,384.5 416.7,387.7 416.0,391.0 414.9,394.7 413.4,398.9 411.9,402.7 410.8,405.4"/><circle cx="420" cy="371.3" r="1.35"/><polygon points="419.9,373.2 418.9,372.7 417.4,372.0 415.7,371.3 414.2,370.7 412.9,370.5 411.7,370.4 410.7,370.5 410.0,370.5 410.0,372.1 410.7,372.1 411.7,372.0 412.7,372.1 413.8,372.3 415.1,372.8 416.6,373.5 418.1,374.3 419.1,374.8"/><circle cx="410" cy="371.3" r="1.20"/><polygon points="419.0,378.2 417.9,378.2 416.2,378.2 414.5,378.3 413.0,378.3 411.9,378.2 410.9,378.2 410.0,378.1 409.5,378.1 409.3,379.5 409.9,379.6 410.8,379.6 411.8,379.7 413.0,379.7 414.5,379.8 416.2,379.8 417.9,379.8 419.0,379.8"/><circle cx="409.4" cy="378.8" r="1.12"/><polygon points="420.9,371.6 421.2,370.6 421.5,369.7 421.8,368.7 422.1,367.8 420.5,367.2 420.2,368.2 419.8,369.1 419.5,370.1 419.1,371.0"/><circle cx="421.3" cy="367.5" r="1.20"/><polygon points="420.2,372.8 421.0,372.5 422.0,372.2 423.1,371.9 423.9,371.8 424.6,372.0 425.3,372.3 426.0,372.8 426.5,373.1 427.3,371.9 426.8,371.5 426.1,371.0 425.2,370.5 424.1,370.2 422.8,370.3 421.6,370.6 420.5,371.0 419.8,371.2"/><circle cx="426.9" cy="372.5" r="1.12"/><polygon points="419.3,387.3 421.0,385.5 423.6,382.9 426.3,380.2 428.7,377.8 430.7,376.0 432.5,374.4 434.1,373.0 435.6,371.7 437.0,370.4 438.3,369.3 439.3,368.3 440.0,367.6 439.0,366.4 438.2,367.1 437.1,368.0 435.8,369.1 434.4,370.3 432.9,371.6 431.2,372.9 429.3,374.4 427.3,376.2 424.7,378.5 421.8,381.1 419.2,383.6 417.3,385.3"/><circle cx="439.5" cy="367" r="1.20"/><polygon points="434.8,371.8 436.4,372.1 438.0,372.5 439.6,372.8 441.1,373.2 441.5,371.8 439.9,371.4 438.3,371.0 436.8,370.6 435.2,370.2"/><circle cx="441.3" cy="372.5" r="1.05"/><polygon points="419.3,396.2 420.7,395.3 422.6,393.9 424.7,392.3 426.6,391.0 428.3,389.9 430.0,388.9 431.5,388.0 432.9,387.2 434.2,386.7 435.6,386.3 436.8,386.0 437.7,385.8 437.3,384.2 436.5,384.3 435.2,384.5 433.7,384.9 432.1,385.4 430.5,386.1 428.9,387.0 427.1,387.9 425.4,389.0 423.3,390.2 421.1,391.6 419.1,392.9 417.7,393.8"/><circle cx="437.5" cy="385" r="1.20"/><polygon points="433.3,386.1 432.9,385.1 432.6,384.2 432.3,383.2 432.0,382.3 430.6,382.7 430.9,383.7 431.2,384.6 431.5,385.6 431.7,386.5"/><circle cx="431.3" cy="382.5" r="1.05"/><polygon points="423.5,395.7 425.7,396.4 428.8,397.5 432.3,398.7 435.7,399.8 439.1,401.0 442.8,402.2 446.1,403.4 448.7,404.2 450.0,404.6 450.6,404.6 450.8,404.6 451.0,404.5 451.0,404.5 450.9,404.4 450.8,404.3 450.2,404.0 448.9,403.4 446.5,402.4 443.2,401.0 439.7,399.5 436.3,398.2 433.0,396.8 429.6,395.4 426.6,394.2 424.5,393.3"/><polygon points="427.1,396.9 428.7,398.3 430.9,400.3 433.2,402.5 435.2,404.6 436.7,406.6 437.9,408.7 439.2,410.8 440.5,413.0 442.2,415.4 444.0,417.9 445.7,420.2 446.8,421.8 448.2,420.8 447.0,419.2 445.4,416.9 443.7,414.4 442.1,412.0 440.8,409.9 439.6,407.7 438.3,405.5 436.8,403.4 434.8,401.0 432.5,398.6 430.3,396.5 428.9,395.1"/><circle cx="447.5" cy="421.3" r="1.20"/><polygon points="440.7,411.9 439.8,412.9 438.9,413.9 437.9,414.8 437.0,415.8 438.0,416.8 439.0,415.9 439.9,414.9 440.9,414.0 441.9,413.1"/><circle cx="437.5" cy="416.3" r="1.12"/><polygon points="417.9,399.7 418.8,400.6 420.0,401.8 421.2,403.2 422.0,404.4 422.4,405.8 422.7,407.4 422.8,409.0 422.9,410.1 424.7,409.9 424.7,408.8 424.6,407.2 424.5,405.4 424.0,403.6 423.1,401.9 421.9,400.2 420.8,398.8 420.1,397.9"/><circle cx="423.8" cy="410" r="1.35"/></g><g fill="#b4ade0"><polygon points="414.2,406.6 415.1,403.9 416.5,400.0 417.9,395.6 419.0,391.6 419.5,388.1 419.7,384.7 419.8,381.6 420.0,378.9 420.2,376.6 420.5,374.4 420.7,372.7 420.9,371.5 419.1,371.1 418.8,372.4 418.4,374.1 418.0,376.2 417.6,378.7 417.3,381.4 417.0,384.5 416.7,387.7 416.0,391.0 414.9,394.7 413.4,398.9 411.9,402.7 410.8,405.4"/><circle cx="420" cy="371.3" r="1.35"/><polygon points="419.9,373.2 418.9,372.7 417.4,372.0 415.7,371.3 414.2,370.7 412.9,370.5 411.7,370.4 410.7,370.5 410.0,370.5 410.0,372.1 410.7,372.1 411.7,372.0 412.7,372.1 413.8,372.3 415.1,372.8 416.6,373.5 418.1,374.3 419.1,374.8"/><circle cx="410" cy="371.3" r="1.20"/><polygon points="419.0,378.2 417.9,378.2 416.2,378.2 414.5,378.3 413.0,378.3 411.9,378.2 410.9,378.2 410.0,378.1 409.5,378.1 409.3,379.5 409.9,379.6 410.8,379.6 411.8,379.7 413.0,379.7 414.5,379.8 416.2,379.8 417.9,379.8 419.0,379.8"/><circle cx="409.4" cy="378.8" r="1.12"/><polygon points="420.9,371.6 421.2,370.6 421.5,369.7 421.8,368.7 422.1,367.8 420.5,367.2 420.2,368.2 419.8,369.1 419.5,370.1 419.1,371.0"/><circle cx="421.3" cy="367.5" r="1.20"/><polygon points="420.2,372.8 421.0,372.5 422.0,372.2 423.1,371.9 423.9,371.8 424.6,372.0 425.3,372.3 426.0,372.8 426.5,373.1 427.3,371.9 426.8,371.5 426.1,371.0 425.2,370.5 424.1,370.2 422.8,370.3 421.6,370.6 420.5,371.0 419.8,371.2"/><circle cx="426.9" cy="372.5" r="1.12"/><polygon points="419.3,387.3 421.0,385.5 423.6,382.9 426.3,380.2 428.7,377.8 430.7,376.0 432.5,374.4 434.1,373.0 435.6,371.7 437.0,370.4 438.3,369.3 439.3,368.3 440.0,367.6 439.0,366.4 438.2,367.1 437.1,368.0 435.8,369.1 434.4,370.3 432.9,371.6 431.2,372.9 429.3,374.4 427.3,376.2 424.7,378.5 421.8,381.1 419.2,383.6 417.3,385.3"/><circle cx="439.5" cy="367" r="1.20"/><polygon points="434.8,371.8 436.4,372.1 438.0,372.5 439.6,372.8 441.1,373.2 441.5,371.8 439.9,371.4 438.3,371.0 436.8,370.6 435.2,370.2"/><circle cx="441.3" cy="372.5" r="1.05"/><polygon points="419.3,396.2 420.7,395.3 422.6,393.9 424.7,392.3 426.6,391.0 428.3,389.9 430.0,388.9 431.5,388.0 432.9,387.2 434.2,386.7 435.6,386.3 436.8,386.0 437.7,385.8 437.3,384.2 436.5,384.3 435.2,384.5 433.7,384.9 432.1,385.4 430.5,386.1 428.9,387.0 427.1,387.9 425.4,389.0 423.3,390.2 421.1,391.6 419.1,392.9 417.7,393.8"/><circle cx="437.5" cy="385" r="1.20"/><polygon points="433.3,386.1 432.9,385.1 432.6,384.2 432.3,383.2 432.0,382.3 430.6,382.7 430.9,383.7 431.2,384.6 431.5,385.6 431.7,386.5"/><circle cx="431.3" cy="382.5" r="1.05"/><polygon points="423.5,395.7 425.7,396.4 428.8,397.5 432.3,398.7 435.7,399.8 439.1,401.0 442.8,402.2 446.1,403.4 448.7,404.2 450.0,404.6 450.6,404.6 450.8,404.6 451.0,404.5 451.0,404.5 450.9,404.4 450.8,404.3 450.2,404.0 448.9,403.4 446.5,402.4 443.2,401.0 439.7,399.5 436.3,398.2 433.0,396.8 429.6,395.4 426.6,394.2 424.5,393.3"/><polygon points="427.1,396.9 428.7,398.3 430.9,400.3 433.2,402.5 435.2,404.6 436.7,406.6 437.9,408.7 439.2,410.8 440.5,413.0 442.2,415.4 444.0,417.9 445.7,420.2 446.8,421.8 448.2,420.8 447.0,419.2 445.4,416.9 443.7,414.4 442.1,412.0 440.8,409.9 439.6,407.7 438.3,405.5 436.8,403.4 434.8,401.0 432.5,398.6 430.3,396.5 428.9,395.1"/><circle cx="447.5" cy="421.3" r="1.20"/><polygon points="440.7,411.9 439.8,412.9 438.9,413.9 437.9,414.8 437.0,415.8 438.0,416.8 439.0,415.9 439.9,414.9 440.9,414.0 441.9,413.1"/><circle cx="437.5" cy="416.3" r="1.12"/><polygon points="417.9,399.7 418.8,400.6 420.0,401.8 421.2,403.2 422.0,404.4 422.4,405.8 422.7,407.4 422.8,409.0 422.9,410.1 424.7,409.9 424.7,408.8 424.6,407.2 424.5,405.4 424.0,403.6 423.1,401.9 421.9,400.2 420.8,398.8 420.1,397.9"/><circle cx="423.8" cy="410" r="1.35"/></g><g stroke="#000" stroke-width="1.8" stroke-linecap="round"><path d="M311,431 L312.7,430.4"/><path d="M334.9,436.8 L335.8,439.7"/><path d="M357.0,442.7 L359.6,444.3"/><path d="M381.0,442.5 L383.3,439.0"/><path d="M400.7,429.0 L412.9,404.4"/></g><g transform="translate(323.8 433.6) rotate(16)"><rect x="-11.5" y="-5.6" width="23" height="11.2" rx="5.33" fill="#f3c251" stroke="#000" stroke-width="1.5"/><ellipse rx="2.4" ry="2" fill="#e2873a" stroke="#b05a18" stroke-width="0.6"/></g><g transform="translate(346.4 441.2) rotate(8)"><rect x="-10.75" y="-5.3" width="21.5" height="10.6" rx="5.05" fill="#f3c251" stroke="#000" stroke-width="1.5"/><ellipse rx="2.4" ry="2" fill="#e2873a" stroke="#b05a18" stroke-width="0.6"/></g><g transform="translate(370.3 443.4) rotate(-5)"><rect x="-10.75" y="-5.3" width="21.5" height="10.6" rx="5.05" fill="#f3c251" stroke="#000" stroke-width="1.5"/><ellipse rx="2.4" ry="2" fill="#e2873a" stroke="#b05a18" stroke-width="0.6"/></g><g transform="translate(392 434) rotate(-30)"><rect x="-10.0" y="-5.3" width="20" height="10.6" rx="5.05" fill="#f3c251" stroke="#000" stroke-width="1.5"/><ellipse rx="2.4" ry="2" fill="#e2873a" stroke="#b05a18" stroke-width="0.6"/></g><g transform="translate(407.3 415) rotate(-62)"><rect x="-12.0" y="-5.5" width="24" height="11" rx="5.24" fill="#f3c251" stroke="#000" stroke-width="1.5"/><ellipse rx="2.4" ry="2" fill="#e2873a" stroke="#b05a18" stroke-width="0.6"/></g>
<g class="lab">
<text x="27.4" y="149" font-size="18.3">SEX CELL</text>
<text x="302" y="90.7" font-size="18.3">MUSCLE CELL</text>
<text x="559.5" y="159.7" font-size="18.4">FAT CELL</text>
<text x="33.8" y="323.2" font-size="18.3">IMMUNE CELL</text>
<text x="299" y="334.2" font-size="23">STEM CELL</text>
<text x="561.1" y="347.8" font-size="18.3">BONE CELL</text>
<text x="31.6" y="484.6" font-size="18.4">EPITHELIAL CELL</text>
<text x="327.2" y="484.3" font-size="18.3">NERVOUS CELL</text>
<text x="535.1" y="484.6" font-size="18.3">BLOOD CELL</text>
</g>
<text class="attr" x="241.5" y="513.6" font-size="9.85" textLength="458" lengthAdjust="spacingAndGlyphs">Haileyfournier, CC BY-SA 4.0 &lt;https://creativecommons.org/licenses/by-sa/4.0&gt;, via Wikimedia Commons</text>
</svg>
</body></html>
